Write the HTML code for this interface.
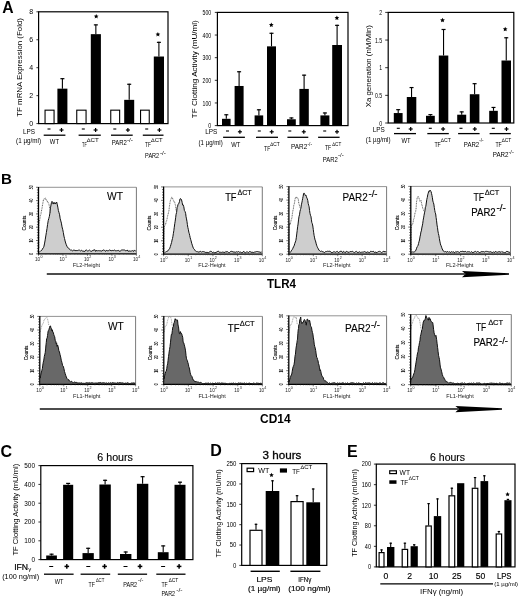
<!DOCTYPE html>
<html><head><meta charset="utf-8"><style>
html,body{margin:0;padding:0;background:#fff;}
svg{display:block;font-family:"Liberation Sans", sans-serif;}
</style></head><body>
<svg width="520" height="599" viewBox="0 0 520 599">
<rect x="0" y="0" width="520" height="599" fill="#fff"/>
<g id="root" filter="url(#blur)">
<text x="2.30" y="12.70" font-size="15.7" font-weight="bold">A</text>
<text x="1.00" y="184.10" font-size="15.2" font-weight="bold">B</text>
<text x="0.40" y="456.60" font-size="16.0" font-weight="bold">C</text>
<text x="210.30" y="455.60" font-size="16.0" font-weight="bold">D</text>
<text x="346.90" y="457.30" font-size="16.0" font-weight="bold">E</text>
<rect x="38.60" y="11.80" width="129.40" height="111.80" fill="none" stroke="#000" stroke-width="1.2"/>
<line x1="36.40" y1="123.60" x2="38.60" y2="123.60" stroke="#000" stroke-width="0.8" />
<text x="33.20" y="126.20" font-size="7.6" text-anchor="end" textLength="3.90" lengthAdjust="spacingAndGlyphs">0</text>
<line x1="36.40" y1="95.65" x2="38.60" y2="95.65" stroke="#000" stroke-width="0.8" />
<text x="33.20" y="98.25" font-size="7.6" text-anchor="end" textLength="3.90" lengthAdjust="spacingAndGlyphs">2</text>
<line x1="36.40" y1="67.70" x2="38.60" y2="67.70" stroke="#000" stroke-width="0.8" />
<text x="33.20" y="70.30" font-size="7.6" text-anchor="end" textLength="3.90" lengthAdjust="spacingAndGlyphs">4</text>
<line x1="36.40" y1="39.75" x2="38.60" y2="39.75" stroke="#000" stroke-width="0.8" />
<text x="33.20" y="42.35" font-size="7.6" text-anchor="end" textLength="3.90" lengthAdjust="spacingAndGlyphs">6</text>
<line x1="36.40" y1="11.80" x2="38.60" y2="11.80" stroke="#000" stroke-width="0.8" />
<text x="33.20" y="14.40" font-size="7.6" text-anchor="end" textLength="3.90" lengthAdjust="spacingAndGlyphs">8</text>
<text x="22.00" y="67.40" font-size="7.5" text-anchor="middle" textLength="98.80" lengthAdjust="spacingAndGlyphs" transform="rotate(-90 22.00 67.40)">TF mRNA Expression (Fold)</text>
<rect x="45.05" y="110.17" width="9.00" height="13.42" fill="#fff" stroke="#000" stroke-width="1.1"/>
<line x1="62.40" y1="88.66" x2="62.40" y2="78.18" stroke="#000" stroke-width="1.1" />
<line x1="60.40" y1="78.68" x2="64.40" y2="78.68" stroke="#000" stroke-width="1.2" />
<rect x="57.40" y="88.66" width="10.00" height="34.94" fill="#000"/>
<rect x="76.75" y="110.17" width="9.30" height="13.42" fill="#fff" stroke="#000" stroke-width="1.1"/>
<line x1="95.85" y1="34.16" x2="95.85" y2="24.38" stroke="#000" stroke-width="1.1" />
<line x1="93.85" y1="24.88" x2="97.85" y2="24.88" stroke="#000" stroke-width="1.2" />
<rect x="90.80" y="34.16" width="10.10" height="89.44" fill="#000"/>
<rect x="110.75" y="110.17" width="8.90" height="13.42" fill="#fff" stroke="#000" stroke-width="1.1"/>
<line x1="129.20" y1="99.84" x2="129.20" y2="83.77" stroke="#000" stroke-width="1.1" />
<line x1="127.20" y1="84.27" x2="131.20" y2="84.27" stroke="#000" stroke-width="1.2" />
<rect x="124.20" y="99.84" width="10.00" height="23.76" fill="#000"/>
<rect x="140.55" y="110.17" width="8.70" height="13.42" fill="#fff" stroke="#000" stroke-width="1.1"/>
<line x1="158.90" y1="56.52" x2="158.90" y2="41.85" stroke="#000" stroke-width="1.1" />
<line x1="156.90" y1="42.35" x2="160.90" y2="42.35" stroke="#000" stroke-width="1.2" />
<rect x="153.80" y="56.52" width="10.20" height="67.08" fill="#000"/>
<polygon points="96.20,13.90 96.89,15.45 98.58,15.63 97.32,16.76 97.67,18.42 96.20,17.57 94.73,18.42 95.08,16.76 93.82,15.63 95.51,15.45" fill="#000"/>
<polygon points="157.90,31.90 158.59,33.45 160.28,33.63 159.02,34.76 159.37,36.42 157.90,35.57 156.43,36.42 156.78,34.76 155.52,33.63 157.21,33.45" fill="#000"/>
<text x="35.00" y="134.20" font-size="6.4" text-anchor="end">LPS</text>
<text x="41.00" y="143.20" font-size="6.3" text-anchor="end" textLength="24.90" lengthAdjust="spacingAndGlyphs">(1 µg/ml)</text>
<rect x="47.50" y="128.45" width="3.00" height="1.10" fill="#000"/>
<rect x="59.50" y="129.40" width="4.00" height="1.20" fill="#000"/>
<rect x="60.90" y="128.00" width="1.20" height="4.00" fill="#000"/>
<line x1="43.70" y1="135.20" x2="65.40" y2="135.20" stroke="#000" stroke-width="1.3" />
<rect x="81.80" y="128.45" width="3.00" height="1.10" fill="#000"/>
<rect x="93.60" y="129.40" width="4.00" height="1.20" fill="#000"/>
<rect x="95.00" y="128.00" width="1.20" height="4.00" fill="#000"/>
<line x1="78.60" y1="135.20" x2="100.80" y2="135.20" stroke="#000" stroke-width="1.3" />
<rect x="113.30" y="128.45" width="3.00" height="1.10" fill="#000"/>
<rect x="125.90" y="129.40" width="4.00" height="1.20" fill="#000"/>
<rect x="127.30" y="128.00" width="1.20" height="4.00" fill="#000"/>
<line x1="111.00" y1="135.20" x2="132.70" y2="135.20" stroke="#000" stroke-width="1.3" />
<rect x="145.20" y="128.45" width="3.00" height="1.10" fill="#000"/>
<rect x="157.40" y="129.40" width="4.00" height="1.20" fill="#000"/>
<rect x="158.80" y="128.00" width="1.20" height="4.00" fill="#000"/>
<line x1="142.80" y1="135.20" x2="163.50" y2="135.20" stroke="#000" stroke-width="1.3" />
<text x="49.80" y="143.50" font-size="7.5" textLength="9.20" lengthAdjust="spacingAndGlyphs">WT</text>
<text x="82.10" y="146.70" font-size="7.5" textLength="4.60" lengthAdjust="spacingAndGlyphs">TF</text>
<text x="86.70" y="142.30" font-size="5.2" textLength="12.10" lengthAdjust="spacingAndGlyphs">∆CT</text>
<text x="111.80" y="145.20" font-size="7.5" textLength="15.10" lengthAdjust="spacingAndGlyphs">PAR2</text>
<text x="126.90" y="141.80" font-size="5.2" textLength="6.10" lengthAdjust="spacingAndGlyphs">-/-</text>
<text x="145.10" y="146.50" font-size="7.5" textLength="5.80" lengthAdjust="spacingAndGlyphs">TF</text>
<text x="151.10" y="141.80" font-size="5.2" textLength="11.50" lengthAdjust="spacingAndGlyphs">∆CT</text>
<text x="145.10" y="158.00" font-size="7.5" textLength="14.10" lengthAdjust="spacingAndGlyphs">PAR2</text>
<text x="159.90" y="154.60" font-size="5.2" textLength="6.10" lengthAdjust="spacingAndGlyphs">-/-</text>
<rect x="217.40" y="12.40" width="130.60" height="113.20" fill="none" stroke="#000" stroke-width="1.2"/>
<line x1="214.80" y1="125.60" x2="217.40" y2="125.60" stroke="#000" stroke-width="0.8" />
<text x="211.20" y="128.30" font-size="7.6" text-anchor="end" textLength="2.90" lengthAdjust="spacingAndGlyphs">0</text>
<line x1="214.80" y1="102.96" x2="217.40" y2="102.96" stroke="#000" stroke-width="0.8" />
<text x="211.20" y="105.66" font-size="7.6" text-anchor="end" textLength="8.70" lengthAdjust="spacingAndGlyphs">100</text>
<line x1="214.80" y1="80.32" x2="217.40" y2="80.32" stroke="#000" stroke-width="0.8" />
<text x="211.20" y="83.02" font-size="7.6" text-anchor="end" textLength="8.70" lengthAdjust="spacingAndGlyphs">200</text>
<line x1="214.80" y1="57.68" x2="217.40" y2="57.68" stroke="#000" stroke-width="0.8" />
<text x="211.20" y="60.38" font-size="7.6" text-anchor="end" textLength="8.70" lengthAdjust="spacingAndGlyphs">300</text>
<line x1="214.80" y1="35.04" x2="217.40" y2="35.04" stroke="#000" stroke-width="0.8" />
<text x="211.20" y="37.74" font-size="7.6" text-anchor="end" textLength="8.70" lengthAdjust="spacingAndGlyphs">400</text>
<line x1="214.80" y1="12.40" x2="217.40" y2="12.40" stroke="#000" stroke-width="0.8" />
<text x="211.20" y="15.10" font-size="7.6" text-anchor="end" textLength="8.70" lengthAdjust="spacingAndGlyphs">500</text>
<text x="197.40" y="69.20" font-size="7.4" text-anchor="middle" textLength="98.00" lengthAdjust="spacingAndGlyphs" transform="rotate(-90 197.40 69.20)">TF Clotting Activity (mU/ml)</text>
<line x1="226.30" y1="118.81" x2="226.30" y2="114.28" stroke="#000" stroke-width="1.1" />
<line x1="224.30" y1="114.78" x2="228.30" y2="114.78" stroke="#000" stroke-width="1.2" />
<rect x="222.00" y="118.81" width="8.60" height="6.79" fill="#000"/>
<line x1="239.10" y1="85.98" x2="239.10" y2="71.26" stroke="#000" stroke-width="1.1" />
<line x1="237.10" y1="71.76" x2="241.10" y2="71.76" stroke="#000" stroke-width="1.2" />
<rect x="234.60" y="85.98" width="9.00" height="39.62" fill="#000"/>
<line x1="258.90" y1="115.41" x2="258.90" y2="109.30" stroke="#000" stroke-width="1.1" />
<line x1="256.90" y1="109.80" x2="260.90" y2="109.80" stroke="#000" stroke-width="1.2" />
<rect x="254.60" y="115.41" width="8.60" height="10.19" fill="#000"/>
<line x1="271.50" y1="46.36" x2="271.50" y2="32.78" stroke="#000" stroke-width="1.1" />
<line x1="269.50" y1="33.28" x2="273.50" y2="33.28" stroke="#000" stroke-width="1.2" />
<rect x="267.00" y="46.36" width="9.00" height="79.24" fill="#000"/>
<line x1="291.40" y1="119.26" x2="291.40" y2="117.45" stroke="#000" stroke-width="1.1" />
<line x1="289.40" y1="117.95" x2="293.40" y2="117.95" stroke="#000" stroke-width="1.2" />
<rect x="287.00" y="119.26" width="8.80" height="6.34" fill="#000"/>
<line x1="304.10" y1="88.92" x2="304.10" y2="74.66" stroke="#000" stroke-width="1.1" />
<line x1="302.10" y1="75.16" x2="306.10" y2="75.16" stroke="#000" stroke-width="1.2" />
<rect x="299.40" y="88.92" width="9.40" height="36.68" fill="#000"/>
<line x1="324.90" y1="115.41" x2="324.90" y2="112.47" stroke="#000" stroke-width="1.1" />
<line x1="322.90" y1="112.97" x2="326.90" y2="112.97" stroke="#000" stroke-width="1.2" />
<rect x="320.40" y="115.41" width="9.00" height="10.19" fill="#000"/>
<line x1="337.10" y1="45.00" x2="337.10" y2="24.85" stroke="#000" stroke-width="1.1" />
<line x1="335.10" y1="25.35" x2="339.10" y2="25.35" stroke="#000" stroke-width="1.2" />
<rect x="332.20" y="45.00" width="9.80" height="80.60" fill="#000"/>
<polygon points="271.30,22.50 271.99,24.05 273.68,24.23 272.42,25.36 272.77,27.02 271.30,26.18 269.83,27.02 270.18,25.36 268.92,24.23 270.61,24.05" fill="#000"/>
<polygon points="336.90,15.50 337.59,17.05 339.28,17.23 338.02,18.36 338.37,20.02 336.90,19.18 335.43,20.02 335.78,18.36 334.52,17.23 336.21,17.05" fill="#000"/>
<text x="217.40" y="134.00" font-size="6.4" text-anchor="end">LPS</text>
<text x="222.70" y="144.60" font-size="6.3" text-anchor="end" textLength="24.10" lengthAdjust="spacingAndGlyphs">(1 µg/ml)</text>
<rect x="226.00" y="130.45" width="3.00" height="1.10" fill="#000"/>
<rect x="237.90" y="131.20" width="4.00" height="1.20" fill="#000"/>
<rect x="239.30" y="129.80" width="1.20" height="4.00" fill="#000"/>
<line x1="223.10" y1="137.30" x2="244.90" y2="137.30" stroke="#000" stroke-width="1.3" />
<rect x="257.80" y="130.45" width="3.00" height="1.10" fill="#000"/>
<rect x="269.70" y="131.20" width="4.00" height="1.20" fill="#000"/>
<rect x="271.10" y="129.80" width="1.20" height="4.00" fill="#000"/>
<line x1="256.00" y1="137.30" x2="278.00" y2="137.30" stroke="#000" stroke-width="1.3" />
<rect x="288.30" y="130.45" width="3.00" height="1.10" fill="#000"/>
<rect x="301.80" y="131.20" width="4.00" height="1.20" fill="#000"/>
<rect x="303.20" y="129.80" width="1.20" height="4.00" fill="#000"/>
<line x1="287.40" y1="137.30" x2="308.30" y2="137.30" stroke="#000" stroke-width="1.3" />
<rect x="323.20" y="130.45" width="3.00" height="1.10" fill="#000"/>
<rect x="335.00" y="131.20" width="4.00" height="1.20" fill="#000"/>
<rect x="336.40" y="129.80" width="1.20" height="4.00" fill="#000"/>
<line x1="318.10" y1="137.30" x2="339.60" y2="137.30" stroke="#000" stroke-width="1.3" />
<text x="231.20" y="146.60" font-size="7.5" textLength="9.10" lengthAdjust="spacingAndGlyphs">WT</text>
<text x="264.10" y="150.50" font-size="7.5" textLength="6.10" lengthAdjust="spacingAndGlyphs">TF</text>
<text x="270.20" y="145.90" font-size="5.2" textLength="9.40" lengthAdjust="spacingAndGlyphs">∆CT</text>
<text x="291.00" y="149.40" font-size="7.5" textLength="16.30" lengthAdjust="spacingAndGlyphs">PAR2</text>
<text x="307.50" y="145.60" font-size="5.2" textLength="4.50" lengthAdjust="spacingAndGlyphs">-/-</text>
<text x="325.00" y="150.40" font-size="7.5" textLength="6.20" lengthAdjust="spacingAndGlyphs">TF</text>
<text x="332.30" y="145.80" font-size="5.2" textLength="8.90" lengthAdjust="spacingAndGlyphs">∆CT</text>
<text x="322.70" y="161.50" font-size="7.5" textLength="15.00" lengthAdjust="spacingAndGlyphs">PAR2</text>
<text x="338.00" y="157.00" font-size="5.2" textLength="5.80" lengthAdjust="spacingAndGlyphs">-/-</text>
<rect x="388.20" y="12.40" width="125.60" height="110.60" fill="none" stroke="#000" stroke-width="1.2"/>
<line x1="385.20" y1="123.00" x2="388.20" y2="123.00" stroke="#000" stroke-width="0.8" />
<text x="382.20" y="125.70" font-size="7.8" text-anchor="end" textLength="2.90" lengthAdjust="spacingAndGlyphs">0</text>
<line x1="385.20" y1="95.35" x2="388.20" y2="95.35" stroke="#000" stroke-width="0.8" />
<text x="382.20" y="98.05" font-size="7.8" text-anchor="end" textLength="7.20" lengthAdjust="spacingAndGlyphs">0.5</text>
<line x1="385.20" y1="67.70" x2="388.20" y2="67.70" stroke="#000" stroke-width="0.8" />
<text x="382.20" y="70.40" font-size="7.8" text-anchor="end" textLength="2.90" lengthAdjust="spacingAndGlyphs">1</text>
<line x1="385.20" y1="40.05" x2="388.20" y2="40.05" stroke="#000" stroke-width="0.8" />
<text x="382.20" y="42.75" font-size="7.8" text-anchor="end" textLength="7.20" lengthAdjust="spacingAndGlyphs">1.5</text>
<line x1="385.20" y1="12.40" x2="388.20" y2="12.40" stroke="#000" stroke-width="0.8" />
<text x="382.20" y="15.10" font-size="7.8" text-anchor="end" textLength="2.90" lengthAdjust="spacingAndGlyphs">2</text>
<text x="371.20" y="66.20" font-size="7.6" text-anchor="middle" textLength="82.20" lengthAdjust="spacingAndGlyphs" transform="rotate(-90 371.20 66.20)">Xa generation (nM/Min)</text>
<line x1="398.20" y1="113.05" x2="398.20" y2="109.17" stroke="#000" stroke-width="1.1" />
<line x1="396.20" y1="109.67" x2="400.20" y2="109.67" stroke="#000" stroke-width="1.2" />
<rect x="393.80" y="113.05" width="8.80" height="9.95" fill="#000"/>
<line x1="411.55" y1="97.01" x2="411.55" y2="87.06" stroke="#000" stroke-width="1.1" />
<line x1="409.55" y1="87.56" x2="413.55" y2="87.56" stroke="#000" stroke-width="1.2" />
<rect x="406.80" y="97.01" width="9.50" height="25.99" fill="#000"/>
<line x1="430.40" y1="115.81" x2="430.40" y2="114.15" stroke="#000" stroke-width="1.1" />
<line x1="428.40" y1="114.65" x2="432.40" y2="114.65" stroke="#000" stroke-width="1.2" />
<rect x="426.00" y="115.81" width="8.80" height="7.19" fill="#000"/>
<line x1="443.55" y1="55.53" x2="443.55" y2="28.99" stroke="#000" stroke-width="1.1" />
<line x1="441.55" y1="29.49" x2="445.55" y2="29.49" stroke="#000" stroke-width="1.2" />
<rect x="438.80" y="55.53" width="9.50" height="67.47" fill="#000"/>
<line x1="461.70" y1="114.70" x2="461.70" y2="111.39" stroke="#000" stroke-width="1.1" />
<line x1="459.70" y1="111.89" x2="463.70" y2="111.89" stroke="#000" stroke-width="1.2" />
<rect x="457.20" y="114.70" width="9.00" height="8.30" fill="#000"/>
<line x1="474.60" y1="94.24" x2="474.60" y2="83.18" stroke="#000" stroke-width="1.1" />
<line x1="472.60" y1="83.68" x2="476.60" y2="83.68" stroke="#000" stroke-width="1.2" />
<rect x="469.80" y="94.24" width="9.60" height="28.76" fill="#000"/>
<line x1="493.50" y1="110.83" x2="493.50" y2="106.96" stroke="#000" stroke-width="1.1" />
<line x1="491.50" y1="107.46" x2="495.50" y2="107.46" stroke="#000" stroke-width="1.2" />
<rect x="489.20" y="110.83" width="8.60" height="12.17" fill="#000"/>
<line x1="506.25" y1="60.51" x2="506.25" y2="37.28" stroke="#000" stroke-width="1.1" />
<line x1="504.25" y1="37.78" x2="508.25" y2="37.78" stroke="#000" stroke-width="1.2" />
<rect x="501.50" y="60.51" width="9.50" height="62.49" fill="#000"/>
<polygon points="442.50,17.80 443.19,19.35 444.88,19.53 443.62,20.66 443.97,22.32 442.50,21.48 441.03,22.32 441.38,20.66 440.12,19.53 441.81,19.35" fill="#000"/>
<polygon points="505.20,26.70 505.89,28.25 507.58,28.43 506.32,29.56 506.67,31.22 505.20,30.38 503.73,31.22 504.08,29.56 502.82,28.43 504.51,28.25" fill="#000"/>
<text x="384.80" y="132.30" font-size="6.4" text-anchor="end">LPS</text>
<text x="390.60" y="142.10" font-size="6.3" text-anchor="end" textLength="24.80" lengthAdjust="spacingAndGlyphs">(1 µg/ml)</text>
<rect x="396.80" y="127.75" width="3.00" height="1.10" fill="#000"/>
<rect x="408.70" y="128.40" width="4.00" height="1.20" fill="#000"/>
<rect x="410.10" y="127.00" width="1.20" height="4.00" fill="#000"/>
<line x1="394.00" y1="133.60" x2="416.00" y2="133.60" stroke="#000" stroke-width="1.3" />
<rect x="428.80" y="127.75" width="3.00" height="1.10" fill="#000"/>
<rect x="441.10" y="128.40" width="4.00" height="1.20" fill="#000"/>
<rect x="442.50" y="127.00" width="1.20" height="4.00" fill="#000"/>
<line x1="427.30" y1="133.60" x2="448.80" y2="133.60" stroke="#000" stroke-width="1.3" />
<rect x="459.50" y="127.75" width="3.00" height="1.10" fill="#000"/>
<rect x="472.80" y="128.40" width="4.00" height="1.20" fill="#000"/>
<rect x="474.20" y="127.00" width="1.20" height="4.00" fill="#000"/>
<line x1="458.10" y1="133.60" x2="479.60" y2="133.60" stroke="#000" stroke-width="1.3" />
<rect x="491.80" y="127.75" width="3.00" height="1.10" fill="#000"/>
<rect x="504.50" y="128.40" width="4.00" height="1.20" fill="#000"/>
<rect x="505.90" y="127.00" width="1.20" height="4.00" fill="#000"/>
<line x1="489.60" y1="133.60" x2="510.80" y2="133.60" stroke="#000" stroke-width="1.3" />
<text x="401.50" y="143.30" font-size="7.5" textLength="9.20" lengthAdjust="spacingAndGlyphs">WT</text>
<text x="434.40" y="147.10" font-size="7.5" textLength="6.40" lengthAdjust="spacingAndGlyphs">TF</text>
<text x="440.80" y="142.30" font-size="5.2" textLength="10.00" lengthAdjust="spacingAndGlyphs">∆CT</text>
<text x="463.80" y="146.50" font-size="7.5" textLength="15.40" lengthAdjust="spacingAndGlyphs">PAR2</text>
<text x="479.20" y="142.30" font-size="5.2" textLength="4.30" lengthAdjust="spacingAndGlyphs">-/-</text>
<text x="495.40" y="146.70" font-size="7.5" textLength="6.30" lengthAdjust="spacingAndGlyphs">TF</text>
<text x="501.70" y="142.30" font-size="5.2" textLength="9.60" lengthAdjust="spacingAndGlyphs">∆CT</text>
<text x="492.70" y="157.30" font-size="7.5" textLength="15.80" lengthAdjust="spacingAndGlyphs">PAR2</text>
<text x="508.50" y="153.80" font-size="5.2" textLength="5.30" lengthAdjust="spacingAndGlyphs">-/-</text>
<path d="M39.10,253.80 L39.30,251.77 L39.75,251.82 L40.39,251.32 L41.00,250.64 L41.51,250.49 L42.01,249.82 L42.50,249.06 L43.01,247.98 L43.52,247.52 L44.00,246.16 L44.62,243.09 L45.20,239.83 L45.80,235.91 L46.40,232.46 L47.00,228.50 L47.60,224.40 L48.21,220.63 L48.80,218.44 L49.36,216.38 L49.90,213.11 L50.46,207.84 L51.00,205.01 L51.49,202.37 L52.00,201.35 L52.57,202.53 L53.20,204.09 L53.69,202.54 L54.20,203.62 L54.70,202.57 L55.37,204.05 L56.00,202.95 L56.61,201.99 L57.20,204.13 L57.80,207.13 L58.40,210.59 L59.00,212.65 L59.60,214.77 L60.20,218.82 L60.80,220.91 L61.39,223.14 L62.00,226.84 L62.65,229.28 L63.30,232.39 L63.91,236.06 L64.50,238.42 L65.10,240.97 L65.70,243.09 L66.29,244.76 L66.90,246.18 L67.55,247.43 L68.20,247.65 L68.81,248.64 L69.40,248.84 L70.03,249.74 L70.50,250.25 L71.40,250.03 L72.30,250.89 L73.20,250.30 L74.10,250.06 L75.00,250.58 L75.90,250.59 L76.80,250.56 L77.70,250.52 L78.60,250.18 L79.50,250.16 L80.40,250.95 L81.30,250.28 L82.20,250.91 L83.10,251.12 L84.00,251.26 L84.90,251.40 L85.80,250.12 L86.70,250.13 L87.60,251.02 L88.50,250.74 L89.40,250.06 L90.30,250.92 L91.20,251.27 L92.10,251.20 L93.00,250.09 L93.90,250.24 L94.80,249.71 L95.70,251.46 L96.60,250.10 L97.50,251.01 L98.40,250.67 L99.30,250.77 L100.20,250.65 L101.10,251.19 L102.00,250.78 L102.90,250.25 L103.80,249.91 L104.70,250.56 L105.60,251.36 L106.50,249.96 L107.40,250.93 L108.30,250.84 L109.20,249.99 L110.10,250.07 L111.00,250.94 L111.90,250.49 L112.80,250.43 L113.70,250.56 L114.60,249.88 L115.50,250.97 L116.40,250.76 L117.30,250.66 L118.20,250.31 L119.10,251.16 L120.00,251.18 L120.90,250.68 L121.80,249.86 L122.70,249.97 L123.60,249.97 L124.50,249.84 L125.40,250.87 L126.30,250.68 L127.20,250.07 L128.10,251.34 L129.00,250.83 L129.90,251.13 L130.80,251.17 L131.70,250.93 L132.60,250.65 L133.50,251.47 L134.40,249.94 L135.30,250.94 L135.80,251.29 L135.80,253.80 Z" fill="#cecece" stroke="none"/>
<path d="M39.30,251.77 L39.75,251.82 L40.39,251.32 L41.00,250.64 L41.51,250.49 L42.01,249.82 L42.50,249.06 L43.01,247.98 L43.52,247.52 L44.00,246.16 L44.62,243.09 L45.20,239.83 L45.80,235.91 L46.40,232.46 L47.00,228.50 L47.60,224.40 L48.21,220.63 L48.80,218.44 L49.36,216.38 L49.90,213.11 L50.46,207.84 L51.00,205.01 L51.49,202.37 L52.00,201.35 L52.57,202.53 L53.20,204.09 L53.69,202.54 L54.20,203.62 L54.70,202.57 L55.37,204.05 L56.00,202.95 L56.61,201.99 L57.20,204.13 L57.80,207.13 L58.40,210.59 L59.00,212.65 L59.60,214.77 L60.20,218.82 L60.80,220.91 L61.39,223.14 L62.00,226.84 L62.65,229.28 L63.30,232.39 L63.91,236.06 L64.50,238.42 L65.10,240.97 L65.70,243.09 L66.29,244.76 L66.90,246.18 L67.55,247.43 L68.20,247.65 L68.81,248.64 L69.40,248.84 L70.03,249.74 L70.50,250.25 L71.40,250.03 L72.30,250.89 L73.20,250.30 L74.10,250.06 L75.00,250.58 L75.90,250.59 L76.80,250.56 L77.70,250.52 L78.60,250.18 L79.50,250.16 L80.40,250.95 L81.30,250.28 L82.20,250.91 L83.10,251.12 L84.00,251.26 L84.90,251.40 L85.80,250.12 L86.70,250.13 L87.60,251.02 L88.50,250.74 L89.40,250.06 L90.30,250.92 L91.20,251.27 L92.10,251.20 L93.00,250.09 L93.90,250.24 L94.80,249.71 L95.70,251.46 L96.60,250.10 L97.50,251.01 L98.40,250.67 L99.30,250.77 L100.20,250.65 L101.10,251.19 L102.00,250.78 L102.90,250.25 L103.80,249.91 L104.70,250.56 L105.60,251.36 L106.50,249.96 L107.40,250.93 L108.30,250.84 L109.20,249.99 L110.10,250.07 L111.00,250.94 L111.90,250.49 L112.80,250.43 L113.70,250.56 L114.60,249.88 L115.50,250.97 L116.40,250.76 L117.30,250.66 L118.20,250.31 L119.10,251.16 L120.00,251.18 L120.90,250.68 L121.80,249.86 L122.70,249.97 L123.60,249.97 L124.50,249.84 L125.40,250.87 L126.30,250.68 L127.20,250.07 L128.10,251.34 L129.00,250.83 L129.90,251.13 L130.80,251.17 L131.70,250.93 L132.60,250.65 L133.50,251.47 L134.40,249.94 L135.30,250.94 L135.80,251.29" fill="none" stroke="#111" stroke-width="1.0" stroke-linejoin="round"/>
<path d="M38.90,248.14 L38.86,237.73 L38.90,225.47 L39.14,222.90 L39.50,221.19 L39.93,218.63 L40.40,215.50 L40.85,214.68 L41.30,211.67 L41.75,209.62 L42.20,207.18 L42.65,204.17 L43.10,201.67 L43.54,199.33 L44.00,199.41 L44.50,198.98 L45.00,198.01 L45.46,198.02 L45.90,199.73 L46.35,199.49 L46.80,200.58 L47.25,201.13 L47.70,202.54 L48.15,202.44 L48.60,203.31 L49.06,204.80 L49.50,206.94 L49.96,209.40 L50.30,212.69" fill="none" stroke="#3a3a3a" stroke-width="0.8" stroke-dasharray="1.0,0.7"/>
<line x1="38.50" y1="187.30" x2="136.40" y2="187.30" stroke="#777" stroke-width="0.8" />
<line x1="136.40" y1="187.30" x2="136.40" y2="253.80" stroke="#555" stroke-width="0.8" />
<line x1="38.50" y1="187.00" x2="38.50" y2="254.40" stroke="#000" stroke-width="1.3" />
<line x1="37.90" y1="253.80" x2="136.40" y2="253.80" stroke="#000" stroke-width="1.2" />
<line x1="36.00" y1="253.80" x2="38.50" y2="253.80" stroke="#111" stroke-width="0.6" />
<line x1="36.90" y1="251.14" x2="38.50" y2="251.14" stroke="#111" stroke-width="0.6" />
<line x1="36.90" y1="248.48" x2="38.50" y2="248.48" stroke="#111" stroke-width="0.6" />
<line x1="36.90" y1="245.82" x2="38.50" y2="245.82" stroke="#111" stroke-width="0.6" />
<line x1="36.90" y1="243.16" x2="38.50" y2="243.16" stroke="#111" stroke-width="0.6" />
<line x1="36.00" y1="240.50" x2="38.50" y2="240.50" stroke="#111" stroke-width="0.6" />
<line x1="36.90" y1="237.84" x2="38.50" y2="237.84" stroke="#111" stroke-width="0.6" />
<line x1="36.90" y1="235.18" x2="38.50" y2="235.18" stroke="#111" stroke-width="0.6" />
<line x1="36.90" y1="232.52" x2="38.50" y2="232.52" stroke="#111" stroke-width="0.6" />
<line x1="36.90" y1="229.86" x2="38.50" y2="229.86" stroke="#111" stroke-width="0.6" />
<line x1="36.00" y1="227.20" x2="38.50" y2="227.20" stroke="#111" stroke-width="0.6" />
<line x1="36.90" y1="224.54" x2="38.50" y2="224.54" stroke="#111" stroke-width="0.6" />
<line x1="36.90" y1="221.88" x2="38.50" y2="221.88" stroke="#111" stroke-width="0.6" />
<line x1="36.90" y1="219.22" x2="38.50" y2="219.22" stroke="#111" stroke-width="0.6" />
<line x1="36.90" y1="216.56" x2="38.50" y2="216.56" stroke="#111" stroke-width="0.6" />
<line x1="36.00" y1="213.90" x2="38.50" y2="213.90" stroke="#111" stroke-width="0.6" />
<line x1="36.90" y1="211.24" x2="38.50" y2="211.24" stroke="#111" stroke-width="0.6" />
<line x1="36.90" y1="208.58" x2="38.50" y2="208.58" stroke="#111" stroke-width="0.6" />
<line x1="36.90" y1="205.92" x2="38.50" y2="205.92" stroke="#111" stroke-width="0.6" />
<line x1="36.90" y1="203.26" x2="38.50" y2="203.26" stroke="#111" stroke-width="0.6" />
<line x1="36.00" y1="200.60" x2="38.50" y2="200.60" stroke="#111" stroke-width="0.6" />
<line x1="36.90" y1="197.94" x2="38.50" y2="197.94" stroke="#111" stroke-width="0.6" />
<line x1="36.90" y1="195.28" x2="38.50" y2="195.28" stroke="#111" stroke-width="0.6" />
<line x1="36.90" y1="192.62" x2="38.50" y2="192.62" stroke="#111" stroke-width="0.6" />
<line x1="36.90" y1="189.96" x2="38.50" y2="189.96" stroke="#111" stroke-width="0.6" />
<line x1="36.00" y1="187.30" x2="38.50" y2="187.30" stroke="#111" stroke-width="0.6" />
<text x="33.10" y="253.80" font-size="5.0" stroke="#000" stroke-width="0.12" text-anchor="middle" textLength="1.90" lengthAdjust="spacingAndGlyphs" transform="rotate(-90 33.10 253.80)">0</text>
<text x="33.10" y="240.50" font-size="5.0" stroke="#000" stroke-width="0.12" text-anchor="middle" textLength="3.80" lengthAdjust="spacingAndGlyphs" transform="rotate(-90 33.10 240.50)">10</text>
<text x="33.10" y="227.20" font-size="5.0" stroke="#000" stroke-width="0.12" text-anchor="middle" textLength="3.80" lengthAdjust="spacingAndGlyphs" transform="rotate(-90 33.10 227.20)">20</text>
<text x="33.10" y="213.90" font-size="5.0" stroke="#000" stroke-width="0.12" text-anchor="middle" textLength="3.80" lengthAdjust="spacingAndGlyphs" transform="rotate(-90 33.10 213.90)">30</text>
<text x="33.10" y="200.60" font-size="5.0" stroke="#000" stroke-width="0.12" text-anchor="middle" textLength="3.80" lengthAdjust="spacingAndGlyphs" transform="rotate(-90 33.10 200.60)">40</text>
<text x="33.10" y="187.30" font-size="5.0" stroke="#000" stroke-width="0.12" text-anchor="middle" textLength="3.80" lengthAdjust="spacingAndGlyphs" transform="rotate(-90 33.10 187.30)">50</text>
<text x="26.40" y="223.05" font-size="4.5" stroke="#000" stroke-width="0.12" text-anchor="middle" textLength="14.70" lengthAdjust="spacingAndGlyphs" transform="rotate(-90 26.40 223.05)">Counts</text>
<line x1="38.50" y1="253.80" x2="38.50" y2="255.80" stroke="#222" stroke-width="0.6" />
<line x1="45.87" y1="253.80" x2="45.87" y2="254.90" stroke="#444" stroke-width="0.45" />
<line x1="50.18" y1="253.80" x2="50.18" y2="254.90" stroke="#444" stroke-width="0.45" />
<line x1="53.24" y1="253.80" x2="53.24" y2="254.90" stroke="#444" stroke-width="0.45" />
<line x1="55.61" y1="253.80" x2="55.61" y2="254.90" stroke="#444" stroke-width="0.45" />
<line x1="57.55" y1="253.80" x2="57.55" y2="254.90" stroke="#444" stroke-width="0.45" />
<line x1="59.18" y1="253.80" x2="59.18" y2="254.90" stroke="#444" stroke-width="0.45" />
<line x1="60.60" y1="253.80" x2="60.60" y2="254.90" stroke="#444" stroke-width="0.45" />
<line x1="61.86" y1="253.80" x2="61.86" y2="254.90" stroke="#444" stroke-width="0.45" />
<text x="37.60" y="261.10" font-size="5.0" text-anchor="middle" fill="#222" textLength="5.20" lengthAdjust="spacingAndGlyphs">10</text>
<text x="40.40" y="258.40" font-size="3.6" fill="#222">0</text>
<line x1="62.98" y1="253.80" x2="62.98" y2="255.80" stroke="#222" stroke-width="0.6" />
<line x1="70.34" y1="253.80" x2="70.34" y2="254.90" stroke="#444" stroke-width="0.45" />
<line x1="74.65" y1="253.80" x2="74.65" y2="254.90" stroke="#444" stroke-width="0.45" />
<line x1="77.71" y1="253.80" x2="77.71" y2="254.90" stroke="#444" stroke-width="0.45" />
<line x1="80.08" y1="253.80" x2="80.08" y2="254.90" stroke="#444" stroke-width="0.45" />
<line x1="82.02" y1="253.80" x2="82.02" y2="254.90" stroke="#444" stroke-width="0.45" />
<line x1="83.66" y1="253.80" x2="83.66" y2="254.90" stroke="#444" stroke-width="0.45" />
<line x1="85.08" y1="253.80" x2="85.08" y2="254.90" stroke="#444" stroke-width="0.45" />
<line x1="86.33" y1="253.80" x2="86.33" y2="254.90" stroke="#444" stroke-width="0.45" />
<text x="62.08" y="261.10" font-size="5.0" text-anchor="middle" fill="#222" textLength="5.20" lengthAdjust="spacingAndGlyphs">10</text>
<text x="64.88" y="258.40" font-size="3.6" fill="#222">1</text>
<line x1="87.45" y1="253.80" x2="87.45" y2="255.80" stroke="#222" stroke-width="0.6" />
<line x1="94.82" y1="253.80" x2="94.82" y2="254.90" stroke="#444" stroke-width="0.45" />
<line x1="99.13" y1="253.80" x2="99.13" y2="254.90" stroke="#444" stroke-width="0.45" />
<line x1="102.19" y1="253.80" x2="102.19" y2="254.90" stroke="#444" stroke-width="0.45" />
<line x1="104.56" y1="253.80" x2="104.56" y2="254.90" stroke="#444" stroke-width="0.45" />
<line x1="106.50" y1="253.80" x2="106.50" y2="254.90" stroke="#444" stroke-width="0.45" />
<line x1="108.13" y1="253.80" x2="108.13" y2="254.90" stroke="#444" stroke-width="0.45" />
<line x1="109.55" y1="253.80" x2="109.55" y2="254.90" stroke="#444" stroke-width="0.45" />
<line x1="110.81" y1="253.80" x2="110.81" y2="254.90" stroke="#444" stroke-width="0.45" />
<text x="86.55" y="261.10" font-size="5.0" text-anchor="middle" fill="#222" textLength="5.20" lengthAdjust="spacingAndGlyphs">10</text>
<text x="89.35" y="258.40" font-size="3.6" fill="#222">2</text>
<line x1="111.93" y1="253.80" x2="111.93" y2="255.80" stroke="#222" stroke-width="0.6" />
<line x1="119.29" y1="253.80" x2="119.29" y2="254.90" stroke="#444" stroke-width="0.45" />
<line x1="123.60" y1="253.80" x2="123.60" y2="254.90" stroke="#444" stroke-width="0.45" />
<line x1="126.66" y1="253.80" x2="126.66" y2="254.90" stroke="#444" stroke-width="0.45" />
<line x1="129.03" y1="253.80" x2="129.03" y2="254.90" stroke="#444" stroke-width="0.45" />
<line x1="130.97" y1="253.80" x2="130.97" y2="254.90" stroke="#444" stroke-width="0.45" />
<line x1="132.61" y1="253.80" x2="132.61" y2="254.90" stroke="#444" stroke-width="0.45" />
<line x1="134.03" y1="253.80" x2="134.03" y2="254.90" stroke="#444" stroke-width="0.45" />
<line x1="135.28" y1="253.80" x2="135.28" y2="254.90" stroke="#444" stroke-width="0.45" />
<text x="111.03" y="261.10" font-size="5.0" text-anchor="middle" fill="#222" textLength="5.20" lengthAdjust="spacingAndGlyphs">10</text>
<text x="113.83" y="258.40" font-size="3.6" fill="#222">3</text>
<line x1="136.40" y1="253.80" x2="136.40" y2="255.80" stroke="#222" stroke-width="0.6" />
<text x="135.50" y="261.10" font-size="5.0" text-anchor="middle" fill="#222" textLength="5.20" lengthAdjust="spacingAndGlyphs">10</text>
<text x="138.30" y="258.40" font-size="3.6" fill="#222">4</text>
<text x="86.45" y="267.00" font-size="5.0" text-anchor="middle" fill="#222" textLength="27.40" lengthAdjust="spacingAndGlyphs">FL2-Height</text>
<path d="M164.20,254.20 L164.40,253.07 L164.84,252.67 L165.50,252.20 L165.90,251.74 L166.36,251.61 L166.83,251.36 L167.30,251.28 L167.92,250.81 L168.54,249.78 L169.10,249.45 L169.79,248.24 L170.40,246.39 L171.03,244.27 L171.60,242.39 L172.07,240.01 L172.50,238.57 L172.95,236.24 L173.40,233.34 L173.85,230.54 L174.30,227.19 L174.75,223.69 L175.20,221.21 L175.64,217.74 L176.10,214.32 L176.60,212.38 L177.10,207.70 L177.56,206.76 L178.00,204.26 L178.44,204.03 L178.90,203.33 L179.44,201.67 L180.00,198.85 L180.50,198.63 L181.00,198.98 L181.54,199.95 L182.10,202.28 L182.64,205.00 L183.20,204.88 L183.79,206.76 L184.40,210.55 L185.02,211.49 L185.60,213.31 L186.07,216.80 L186.50,218.93 L186.95,221.35 L187.40,224.63 L187.84,227.45 L188.30,229.29 L188.80,232.08 L189.30,233.72 L189.76,235.74 L190.20,237.80 L190.63,239.32 L191.10,240.86 L191.68,243.28 L192.30,245.16 L192.88,246.93 L193.50,248.50 L193.97,249.18 L194.48,249.40 L195.00,250.34 L195.53,251.06 L196.08,251.43 L196.60,251.58 L197.13,251.49 L197.64,251.77 L198.00,251.97 L198.90,252.06 L199.80,251.66 L200.70,251.25 L201.60,252.25 L202.50,251.54 L203.40,251.61 L204.30,251.84 L205.20,252.23 L206.10,252.78 L207.00,251.94 L207.90,252.79 L208.80,252.79 L209.70,251.59 L210.60,251.32 L211.50,251.46 L212.40,252.55 L213.30,252.16 L214.20,252.67 L215.10,252.76 L216.00,252.25 L216.90,252.06 L217.80,251.31 L218.70,251.24 L219.60,252.49 L220.50,252.28 L221.40,252.42 L222.30,252.11 L223.20,252.28 L224.10,252.22 L225.00,252.63 L225.90,251.38 L226.80,251.99 L227.70,251.69 L228.60,252.53 L229.50,252.60 L230.40,251.60 L231.30,251.33 L232.20,251.59 L233.10,251.70 L234.00,252.43 L234.90,251.86 L235.80,252.40 L236.70,251.68 L237.60,252.04 L238.50,251.50 L239.40,252.23 L240.30,252.02 L241.20,252.58 L242.10,252.72 L243.00,252.03 L243.90,251.31 L244.80,252.70 L245.70,252.71 L246.60,251.96 L247.50,251.98 L248.40,252.69 L249.30,251.61 L250.20,251.61 L251.10,252.31 L252.00,252.28 L252.90,252.30 L253.80,252.52 L254.70,252.02 L255.60,251.87 L256.50,251.56 L257.40,251.54 L258.30,251.79 L259.20,251.89 L260.10,252.38 L261.00,252.19 L261.70,252.02 L261.70,254.20 Z" fill="#cecece" stroke="none"/>
<path d="M164.40,253.07 L164.84,252.67 L165.50,252.20 L165.90,251.74 L166.36,251.61 L166.83,251.36 L167.30,251.28 L167.92,250.81 L168.54,249.78 L169.10,249.45 L169.79,248.24 L170.40,246.39 L171.03,244.27 L171.60,242.39 L172.07,240.01 L172.50,238.57 L172.95,236.24 L173.40,233.34 L173.85,230.54 L174.30,227.19 L174.75,223.69 L175.20,221.21 L175.64,217.74 L176.10,214.32 L176.60,212.38 L177.10,207.70 L177.56,206.76 L178.00,204.26 L178.44,204.03 L178.90,203.33 L179.44,201.67 L180.00,198.85 L180.50,198.63 L181.00,198.98 L181.54,199.95 L182.10,202.28 L182.64,205.00 L183.20,204.88 L183.79,206.76 L184.40,210.55 L185.02,211.49 L185.60,213.31 L186.07,216.80 L186.50,218.93 L186.95,221.35 L187.40,224.63 L187.84,227.45 L188.30,229.29 L188.80,232.08 L189.30,233.72 L189.76,235.74 L190.20,237.80 L190.63,239.32 L191.10,240.86 L191.68,243.28 L192.30,245.16 L192.88,246.93 L193.50,248.50 L193.97,249.18 L194.48,249.40 L195.00,250.34 L195.53,251.06 L196.08,251.43 L196.60,251.58 L197.13,251.49 L197.64,251.77 L198.00,251.97 L198.90,252.06 L199.80,251.66 L200.70,251.25 L201.60,252.25 L202.50,251.54 L203.40,251.61 L204.30,251.84 L205.20,252.23 L206.10,252.78 L207.00,251.94 L207.90,252.79 L208.80,252.79 L209.70,251.59 L210.60,251.32 L211.50,251.46 L212.40,252.55 L213.30,252.16 L214.20,252.67 L215.10,252.76 L216.00,252.25 L216.90,252.06 L217.80,251.31 L218.70,251.24 L219.60,252.49 L220.50,252.28 L221.40,252.42 L222.30,252.11 L223.20,252.28 L224.10,252.22 L225.00,252.63 L225.90,251.38 L226.80,251.99 L227.70,251.69 L228.60,252.53 L229.50,252.60 L230.40,251.60 L231.30,251.33 L232.20,251.59 L233.10,251.70 L234.00,252.43 L234.90,251.86 L235.80,252.40 L236.70,251.68 L237.60,252.04 L238.50,251.50 L239.40,252.23 L240.30,252.02 L241.20,252.58 L242.10,252.72 L243.00,252.03 L243.90,251.31 L244.80,252.70 L245.70,252.71 L246.60,251.96 L247.50,251.98 L248.40,252.69 L249.30,251.61 L250.20,251.61 L251.10,252.31 L252.00,252.28 L252.90,252.30 L253.80,252.52 L254.70,252.02 L255.60,251.87 L256.50,251.56 L257.40,251.54 L258.30,251.79 L259.20,251.89 L260.10,252.38 L261.00,252.19 L261.70,252.02" fill="none" stroke="#111" stroke-width="1.0" stroke-linejoin="round"/>
<path d="M164.00,252.54 L163.91,241.70 L164.00,230.14 L164.40,226.78 L164.96,225.29 L165.50,224.80 L166.17,221.70 L166.80,220.20 L167.43,216.84 L168.00,214.56 L168.47,212.64 L168.90,210.91 L169.35,206.83 L169.80,203.88 L170.25,200.97 L170.70,199.72 L171.15,198.77 L171.60,197.29 L172.05,197.19 L172.50,198.17 L172.95,199.34 L173.40,200.54 L173.85,201.63 L174.30,201.47 L174.76,202.63 L175.20,204.40 L175.57,205.22 L175.90,208.56 L176.24,210.40 L176.50,211.15" fill="none" stroke="#3a3a3a" stroke-width="0.8" stroke-dasharray="1.0,0.7"/>
<line x1="163.60" y1="186.90" x2="262.30" y2="186.90" stroke="#777" stroke-width="0.8" />
<line x1="262.30" y1="186.90" x2="262.30" y2="254.20" stroke="#555" stroke-width="0.8" />
<line x1="163.60" y1="186.60" x2="163.60" y2="254.80" stroke="#000" stroke-width="1.3" />
<line x1="163.00" y1="254.20" x2="262.30" y2="254.20" stroke="#000" stroke-width="1.2" />
<line x1="161.10" y1="254.20" x2="163.60" y2="254.20" stroke="#111" stroke-width="0.6" />
<line x1="162.00" y1="251.51" x2="163.60" y2="251.51" stroke="#111" stroke-width="0.6" />
<line x1="162.00" y1="248.82" x2="163.60" y2="248.82" stroke="#111" stroke-width="0.6" />
<line x1="162.00" y1="246.12" x2="163.60" y2="246.12" stroke="#111" stroke-width="0.6" />
<line x1="162.00" y1="243.43" x2="163.60" y2="243.43" stroke="#111" stroke-width="0.6" />
<line x1="161.10" y1="240.74" x2="163.60" y2="240.74" stroke="#111" stroke-width="0.6" />
<line x1="162.00" y1="238.05" x2="163.60" y2="238.05" stroke="#111" stroke-width="0.6" />
<line x1="162.00" y1="235.36" x2="163.60" y2="235.36" stroke="#111" stroke-width="0.6" />
<line x1="162.00" y1="232.66" x2="163.60" y2="232.66" stroke="#111" stroke-width="0.6" />
<line x1="162.00" y1="229.97" x2="163.60" y2="229.97" stroke="#111" stroke-width="0.6" />
<line x1="161.10" y1="227.28" x2="163.60" y2="227.28" stroke="#111" stroke-width="0.6" />
<line x1="162.00" y1="224.59" x2="163.60" y2="224.59" stroke="#111" stroke-width="0.6" />
<line x1="162.00" y1="221.90" x2="163.60" y2="221.90" stroke="#111" stroke-width="0.6" />
<line x1="162.00" y1="219.20" x2="163.60" y2="219.20" stroke="#111" stroke-width="0.6" />
<line x1="162.00" y1="216.51" x2="163.60" y2="216.51" stroke="#111" stroke-width="0.6" />
<line x1="161.10" y1="213.82" x2="163.60" y2="213.82" stroke="#111" stroke-width="0.6" />
<line x1="162.00" y1="211.13" x2="163.60" y2="211.13" stroke="#111" stroke-width="0.6" />
<line x1="162.00" y1="208.44" x2="163.60" y2="208.44" stroke="#111" stroke-width="0.6" />
<line x1="162.00" y1="205.74" x2="163.60" y2="205.74" stroke="#111" stroke-width="0.6" />
<line x1="162.00" y1="203.05" x2="163.60" y2="203.05" stroke="#111" stroke-width="0.6" />
<line x1="161.10" y1="200.36" x2="163.60" y2="200.36" stroke="#111" stroke-width="0.6" />
<line x1="162.00" y1="197.67" x2="163.60" y2="197.67" stroke="#111" stroke-width="0.6" />
<line x1="162.00" y1="194.98" x2="163.60" y2="194.98" stroke="#111" stroke-width="0.6" />
<line x1="162.00" y1="192.28" x2="163.60" y2="192.28" stroke="#111" stroke-width="0.6" />
<line x1="162.00" y1="189.59" x2="163.60" y2="189.59" stroke="#111" stroke-width="0.6" />
<line x1="161.10" y1="186.90" x2="163.60" y2="186.90" stroke="#111" stroke-width="0.6" />
<text x="158.20" y="254.20" font-size="5.0" stroke="#000" stroke-width="0.12" text-anchor="middle" textLength="1.90" lengthAdjust="spacingAndGlyphs" transform="rotate(-90 158.20 254.20)">0</text>
<text x="158.20" y="240.74" font-size="5.0" stroke="#000" stroke-width="0.12" text-anchor="middle" textLength="3.80" lengthAdjust="spacingAndGlyphs" transform="rotate(-90 158.20 240.74)">10</text>
<text x="158.20" y="227.28" font-size="5.0" stroke="#000" stroke-width="0.12" text-anchor="middle" textLength="3.80" lengthAdjust="spacingAndGlyphs" transform="rotate(-90 158.20 227.28)">20</text>
<text x="158.20" y="213.82" font-size="5.0" stroke="#000" stroke-width="0.12" text-anchor="middle" textLength="3.80" lengthAdjust="spacingAndGlyphs" transform="rotate(-90 158.20 213.82)">30</text>
<text x="158.20" y="200.36" font-size="5.0" stroke="#000" stroke-width="0.12" text-anchor="middle" textLength="3.80" lengthAdjust="spacingAndGlyphs" transform="rotate(-90 158.20 200.36)">40</text>
<text x="158.20" y="186.90" font-size="5.0" stroke="#000" stroke-width="0.12" text-anchor="middle" textLength="3.80" lengthAdjust="spacingAndGlyphs" transform="rotate(-90 158.20 186.90)">50</text>
<text x="151.50" y="223.05" font-size="4.5" stroke="#000" stroke-width="0.12" text-anchor="middle" textLength="14.70" lengthAdjust="spacingAndGlyphs" transform="rotate(-90 151.50 223.05)">Counts</text>
<line x1="163.60" y1="254.20" x2="163.60" y2="256.20" stroke="#222" stroke-width="0.6" />
<line x1="171.03" y1="254.20" x2="171.03" y2="255.30" stroke="#444" stroke-width="0.45" />
<line x1="175.37" y1="254.20" x2="175.37" y2="255.30" stroke="#444" stroke-width="0.45" />
<line x1="178.46" y1="254.20" x2="178.46" y2="255.30" stroke="#444" stroke-width="0.45" />
<line x1="180.85" y1="254.20" x2="180.85" y2="255.30" stroke="#444" stroke-width="0.45" />
<line x1="182.80" y1="254.20" x2="182.80" y2="255.30" stroke="#444" stroke-width="0.45" />
<line x1="184.45" y1="254.20" x2="184.45" y2="255.30" stroke="#444" stroke-width="0.45" />
<line x1="185.88" y1="254.20" x2="185.88" y2="255.30" stroke="#444" stroke-width="0.45" />
<line x1="187.15" y1="254.20" x2="187.15" y2="255.30" stroke="#444" stroke-width="0.45" />
<text x="162.70" y="261.50" font-size="5.0" text-anchor="middle" fill="#222" textLength="5.20" lengthAdjust="spacingAndGlyphs">10</text>
<text x="165.50" y="258.80" font-size="3.6" fill="#222">0</text>
<line x1="188.28" y1="254.20" x2="188.28" y2="256.20" stroke="#222" stroke-width="0.6" />
<line x1="195.70" y1="254.20" x2="195.70" y2="255.30" stroke="#444" stroke-width="0.45" />
<line x1="200.05" y1="254.20" x2="200.05" y2="255.30" stroke="#444" stroke-width="0.45" />
<line x1="203.13" y1="254.20" x2="203.13" y2="255.30" stroke="#444" stroke-width="0.45" />
<line x1="205.52" y1="254.20" x2="205.52" y2="255.30" stroke="#444" stroke-width="0.45" />
<line x1="207.48" y1="254.20" x2="207.48" y2="255.30" stroke="#444" stroke-width="0.45" />
<line x1="209.13" y1="254.20" x2="209.13" y2="255.30" stroke="#444" stroke-width="0.45" />
<line x1="210.56" y1="254.20" x2="210.56" y2="255.30" stroke="#444" stroke-width="0.45" />
<line x1="211.82" y1="254.20" x2="211.82" y2="255.30" stroke="#444" stroke-width="0.45" />
<text x="187.38" y="261.50" font-size="5.0" text-anchor="middle" fill="#222" textLength="5.20" lengthAdjust="spacingAndGlyphs">10</text>
<text x="190.18" y="258.80" font-size="3.6" fill="#222">1</text>
<line x1="212.95" y1="254.20" x2="212.95" y2="256.20" stroke="#222" stroke-width="0.6" />
<line x1="220.38" y1="254.20" x2="220.38" y2="255.30" stroke="#444" stroke-width="0.45" />
<line x1="224.72" y1="254.20" x2="224.72" y2="255.30" stroke="#444" stroke-width="0.45" />
<line x1="227.81" y1="254.20" x2="227.81" y2="255.30" stroke="#444" stroke-width="0.45" />
<line x1="230.20" y1="254.20" x2="230.20" y2="255.30" stroke="#444" stroke-width="0.45" />
<line x1="232.15" y1="254.20" x2="232.15" y2="255.30" stroke="#444" stroke-width="0.45" />
<line x1="233.80" y1="254.20" x2="233.80" y2="255.30" stroke="#444" stroke-width="0.45" />
<line x1="235.23" y1="254.20" x2="235.23" y2="255.30" stroke="#444" stroke-width="0.45" />
<line x1="236.50" y1="254.20" x2="236.50" y2="255.30" stroke="#444" stroke-width="0.45" />
<text x="212.05" y="261.50" font-size="5.0" text-anchor="middle" fill="#222" textLength="5.20" lengthAdjust="spacingAndGlyphs">10</text>
<text x="214.85" y="258.80" font-size="3.6" fill="#222">2</text>
<line x1="237.62" y1="254.20" x2="237.62" y2="256.20" stroke="#222" stroke-width="0.6" />
<line x1="245.05" y1="254.20" x2="245.05" y2="255.30" stroke="#444" stroke-width="0.45" />
<line x1="249.40" y1="254.20" x2="249.40" y2="255.30" stroke="#444" stroke-width="0.45" />
<line x1="252.48" y1="254.20" x2="252.48" y2="255.30" stroke="#444" stroke-width="0.45" />
<line x1="254.87" y1="254.20" x2="254.87" y2="255.30" stroke="#444" stroke-width="0.45" />
<line x1="256.83" y1="254.20" x2="256.83" y2="255.30" stroke="#444" stroke-width="0.45" />
<line x1="258.48" y1="254.20" x2="258.48" y2="255.30" stroke="#444" stroke-width="0.45" />
<line x1="259.91" y1="254.20" x2="259.91" y2="255.30" stroke="#444" stroke-width="0.45" />
<line x1="261.17" y1="254.20" x2="261.17" y2="255.30" stroke="#444" stroke-width="0.45" />
<text x="236.72" y="261.50" font-size="5.0" text-anchor="middle" fill="#222" textLength="5.20" lengthAdjust="spacingAndGlyphs">10</text>
<text x="239.53" y="258.80" font-size="3.6" fill="#222">3</text>
<line x1="262.30" y1="254.20" x2="262.30" y2="256.20" stroke="#222" stroke-width="0.6" />
<text x="261.40" y="261.50" font-size="5.0" text-anchor="middle" fill="#222" textLength="5.20" lengthAdjust="spacingAndGlyphs">10</text>
<text x="264.20" y="258.80" font-size="3.6" fill="#222">4</text>
<text x="211.95" y="267.40" font-size="5.0" text-anchor="middle" fill="#222" textLength="27.40" lengthAdjust="spacingAndGlyphs">FL2-Height</text>
<path d="M289.50,254.20 L289.60,252.82 L289.98,252.76 L290.50,252.09 L291.08,251.26 L291.70,250.15 L292.30,249.47 L292.90,248.26 L293.49,246.90 L294.10,245.93 L294.77,243.55 L295.40,241.93 L295.88,240.33 L296.30,237.80 L296.75,233.96 L297.20,230.57 L297.65,226.72 L298.10,223.97 L298.54,219.91 L299.00,216.59 L299.50,214.80 L300.00,211.28 L300.46,209.57 L300.90,208.17 L301.35,204.86 L301.80,202.93 L302.25,200.70 L302.70,198.32 L303.15,196.30 L303.60,193.53 L304.05,192.94 L304.50,193.70 L304.95,194.60 L305.40,195.51 L305.84,195.01 L306.30,196.27 L306.80,197.92 L307.30,198.80 L307.76,200.50 L308.20,203.46 L308.65,205.24 L309.10,206.75 L309.55,210.48 L310.00,213.37 L310.45,215.28 L310.90,216.09 L311.34,219.18 L311.80,222.55 L312.30,223.70 L312.80,226.03 L313.26,229.33 L313.70,232.77 L314.15,235.66 L314.60,237.85 L315.04,239.92 L315.50,240.95 L316.04,243.16 L316.60,245.19 L317.14,246.51 L317.70,247.84 L318.33,248.85 L319.00,250.37 L319.45,250.48 L319.91,250.79 L320.40,251.46 L320.98,251.47 L321.58,251.14 L322.00,251.50 L322.90,251.85 L323.80,252.07 L324.70,252.58 L325.60,251.48 L326.50,251.56 L327.40,251.25 L328.30,251.39 L329.20,251.21 L330.10,251.45 L331.00,252.02 L331.90,252.78 L332.80,252.31 L333.70,251.81 L334.60,251.85 L335.50,252.31 L336.40,251.72 L337.30,251.32 L338.20,252.55 L339.10,252.19 L340.00,251.38 L340.90,251.31 L341.80,251.35 L342.70,252.73 L343.60,251.37 L344.50,252.20 L345.40,252.75 L346.30,251.26 L347.20,251.82 L348.10,251.96 L349.00,252.67 L349.90,251.50 L350.80,251.61 L351.70,251.60 L352.60,251.28 L353.50,252.28 L354.40,252.51 L355.30,251.90 L356.20,251.26 L357.10,252.34 L358.00,252.38 L358.90,252.25 L359.80,251.73 L360.70,252.53 L361.60,252.21 L362.50,252.14 L363.40,252.06 L364.30,251.57 L365.20,251.93 L366.10,252.47 L367.00,252.29 L367.90,251.75 L368.80,252.51 L369.70,252.54 L370.60,251.27 L371.50,251.45 L372.40,251.56 L373.30,251.22 L374.20,252.41 L375.10,252.23 L376.00,252.07 L376.90,252.79 L377.80,251.77 L378.70,251.52 L379.60,251.38 L380.50,251.74 L381.40,252.54 L382.30,252.17 L383.20,251.29 L384.10,251.89 L385.00,251.28 L385.90,252.20 L386.00,251.40 L386.00,254.20 Z" fill="#cecece" stroke="none"/>
<path d="M289.60,252.82 L289.98,252.76 L290.50,252.09 L291.08,251.26 L291.70,250.15 L292.30,249.47 L292.90,248.26 L293.49,246.90 L294.10,245.93 L294.77,243.55 L295.40,241.93 L295.88,240.33 L296.30,237.80 L296.75,233.96 L297.20,230.57 L297.65,226.72 L298.10,223.97 L298.54,219.91 L299.00,216.59 L299.50,214.80 L300.00,211.28 L300.46,209.57 L300.90,208.17 L301.35,204.86 L301.80,202.93 L302.25,200.70 L302.70,198.32 L303.15,196.30 L303.60,193.53 L304.05,192.94 L304.50,193.70 L304.95,194.60 L305.40,195.51 L305.84,195.01 L306.30,196.27 L306.80,197.92 L307.30,198.80 L307.76,200.50 L308.20,203.46 L308.65,205.24 L309.10,206.75 L309.55,210.48 L310.00,213.37 L310.45,215.28 L310.90,216.09 L311.34,219.18 L311.80,222.55 L312.30,223.70 L312.80,226.03 L313.26,229.33 L313.70,232.77 L314.15,235.66 L314.60,237.85 L315.04,239.92 L315.50,240.95 L316.04,243.16 L316.60,245.19 L317.14,246.51 L317.70,247.84 L318.33,248.85 L319.00,250.37 L319.45,250.48 L319.91,250.79 L320.40,251.46 L320.98,251.47 L321.58,251.14 L322.00,251.50 L322.90,251.85 L323.80,252.07 L324.70,252.58 L325.60,251.48 L326.50,251.56 L327.40,251.25 L328.30,251.39 L329.20,251.21 L330.10,251.45 L331.00,252.02 L331.90,252.78 L332.80,252.31 L333.70,251.81 L334.60,251.85 L335.50,252.31 L336.40,251.72 L337.30,251.32 L338.20,252.55 L339.10,252.19 L340.00,251.38 L340.90,251.31 L341.80,251.35 L342.70,252.73 L343.60,251.37 L344.50,252.20 L345.40,252.75 L346.30,251.26 L347.20,251.82 L348.10,251.96 L349.00,252.67 L349.90,251.50 L350.80,251.61 L351.70,251.60 L352.60,251.28 L353.50,252.28 L354.40,252.51 L355.30,251.90 L356.20,251.26 L357.10,252.34 L358.00,252.38 L358.90,252.25 L359.80,251.73 L360.70,252.53 L361.60,252.21 L362.50,252.14 L363.40,252.06 L364.30,251.57 L365.20,251.93 L366.10,252.47 L367.00,252.29 L367.90,251.75 L368.80,252.51 L369.70,252.54 L370.60,251.27 L371.50,251.45 L372.40,251.56 L373.30,251.22 L374.20,252.41 L375.10,252.23 L376.00,252.07 L376.90,252.79 L377.80,251.77 L378.70,251.52 L379.60,251.38 L380.50,251.74 L381.40,252.54 L382.30,252.17 L383.20,251.29 L384.10,251.89 L385.00,251.28 L385.90,252.20 L386.00,251.40" fill="none" stroke="#111" stroke-width="1.0" stroke-linejoin="round"/>
<path d="M289.20,251.91 L289.14,238.34 L289.20,227.03 L289.64,223.23 L290.20,224.58 L290.66,222.18 L291.10,220.44 L291.55,218.93 L292.00,217.40 L292.46,213.31 L292.90,210.64 L293.31,209.35 L293.70,205.71 L294.10,204.52 L294.50,202.74 L294.91,199.79 L295.30,198.19 L295.64,197.36 L296.00,197.90 L296.44,196.95 L296.90,198.41 L297.36,198.04 L297.80,198.32 L298.21,198.55 L298.60,202.00 L299.01,204.13 L299.40,205.00 L299.75,207.21 L300.00,207.59" fill="none" stroke="#3a3a3a" stroke-width="0.8" stroke-dasharray="1.0,0.7"/>
<line x1="288.90" y1="186.60" x2="386.60" y2="186.60" stroke="#777" stroke-width="0.8" />
<line x1="386.60" y1="186.60" x2="386.60" y2="254.20" stroke="#555" stroke-width="0.8" />
<line x1="288.90" y1="186.30" x2="288.90" y2="254.80" stroke="#000" stroke-width="1.3" />
<line x1="288.30" y1="254.20" x2="386.60" y2="254.20" stroke="#000" stroke-width="1.2" />
<line x1="286.40" y1="254.20" x2="288.90" y2="254.20" stroke="#111" stroke-width="0.6" />
<line x1="287.30" y1="251.50" x2="288.90" y2="251.50" stroke="#111" stroke-width="0.6" />
<line x1="287.30" y1="248.79" x2="288.90" y2="248.79" stroke="#111" stroke-width="0.6" />
<line x1="287.30" y1="246.09" x2="288.90" y2="246.09" stroke="#111" stroke-width="0.6" />
<line x1="287.30" y1="243.38" x2="288.90" y2="243.38" stroke="#111" stroke-width="0.6" />
<line x1="286.40" y1="240.68" x2="288.90" y2="240.68" stroke="#111" stroke-width="0.6" />
<line x1="287.30" y1="237.98" x2="288.90" y2="237.98" stroke="#111" stroke-width="0.6" />
<line x1="287.30" y1="235.27" x2="288.90" y2="235.27" stroke="#111" stroke-width="0.6" />
<line x1="287.30" y1="232.57" x2="288.90" y2="232.57" stroke="#111" stroke-width="0.6" />
<line x1="287.30" y1="229.86" x2="288.90" y2="229.86" stroke="#111" stroke-width="0.6" />
<line x1="286.40" y1="227.16" x2="288.90" y2="227.16" stroke="#111" stroke-width="0.6" />
<line x1="287.30" y1="224.46" x2="288.90" y2="224.46" stroke="#111" stroke-width="0.6" />
<line x1="287.30" y1="221.75" x2="288.90" y2="221.75" stroke="#111" stroke-width="0.6" />
<line x1="287.30" y1="219.05" x2="288.90" y2="219.05" stroke="#111" stroke-width="0.6" />
<line x1="287.30" y1="216.34" x2="288.90" y2="216.34" stroke="#111" stroke-width="0.6" />
<line x1="286.40" y1="213.64" x2="288.90" y2="213.64" stroke="#111" stroke-width="0.6" />
<line x1="287.30" y1="210.94" x2="288.90" y2="210.94" stroke="#111" stroke-width="0.6" />
<line x1="287.30" y1="208.23" x2="288.90" y2="208.23" stroke="#111" stroke-width="0.6" />
<line x1="287.30" y1="205.53" x2="288.90" y2="205.53" stroke="#111" stroke-width="0.6" />
<line x1="287.30" y1="202.82" x2="288.90" y2="202.82" stroke="#111" stroke-width="0.6" />
<line x1="286.40" y1="200.12" x2="288.90" y2="200.12" stroke="#111" stroke-width="0.6" />
<line x1="287.30" y1="197.42" x2="288.90" y2="197.42" stroke="#111" stroke-width="0.6" />
<line x1="287.30" y1="194.71" x2="288.90" y2="194.71" stroke="#111" stroke-width="0.6" />
<line x1="287.30" y1="192.01" x2="288.90" y2="192.01" stroke="#111" stroke-width="0.6" />
<line x1="287.30" y1="189.30" x2="288.90" y2="189.30" stroke="#111" stroke-width="0.6" />
<line x1="286.40" y1="186.60" x2="288.90" y2="186.60" stroke="#111" stroke-width="0.6" />
<text x="283.50" y="254.20" font-size="5.0" stroke="#000" stroke-width="0.12" text-anchor="middle" textLength="1.90" lengthAdjust="spacingAndGlyphs" transform="rotate(-90 283.50 254.20)">0</text>
<text x="283.50" y="240.68" font-size="5.0" stroke="#000" stroke-width="0.12" text-anchor="middle" textLength="3.80" lengthAdjust="spacingAndGlyphs" transform="rotate(-90 283.50 240.68)">10</text>
<text x="283.50" y="227.16" font-size="5.0" stroke="#000" stroke-width="0.12" text-anchor="middle" textLength="3.80" lengthAdjust="spacingAndGlyphs" transform="rotate(-90 283.50 227.16)">20</text>
<text x="283.50" y="213.64" font-size="5.0" stroke="#000" stroke-width="0.12" text-anchor="middle" textLength="3.80" lengthAdjust="spacingAndGlyphs" transform="rotate(-90 283.50 213.64)">30</text>
<text x="283.50" y="200.12" font-size="5.0" stroke="#000" stroke-width="0.12" text-anchor="middle" textLength="3.80" lengthAdjust="spacingAndGlyphs" transform="rotate(-90 283.50 200.12)">40</text>
<text x="283.50" y="186.60" font-size="5.0" stroke="#000" stroke-width="0.12" text-anchor="middle" textLength="3.80" lengthAdjust="spacingAndGlyphs" transform="rotate(-90 283.50 186.60)">50</text>
<text x="276.80" y="222.90" font-size="4.5" stroke="#000" stroke-width="0.12" text-anchor="middle" textLength="14.70" lengthAdjust="spacingAndGlyphs" transform="rotate(-90 276.80 222.90)">Counts</text>
<line x1="288.90" y1="254.20" x2="288.90" y2="256.20" stroke="#222" stroke-width="0.6" />
<line x1="296.25" y1="254.20" x2="296.25" y2="255.30" stroke="#444" stroke-width="0.45" />
<line x1="300.55" y1="254.20" x2="300.55" y2="255.30" stroke="#444" stroke-width="0.45" />
<line x1="303.61" y1="254.20" x2="303.61" y2="255.30" stroke="#444" stroke-width="0.45" />
<line x1="305.97" y1="254.20" x2="305.97" y2="255.30" stroke="#444" stroke-width="0.45" />
<line x1="307.91" y1="254.20" x2="307.91" y2="255.30" stroke="#444" stroke-width="0.45" />
<line x1="309.54" y1="254.20" x2="309.54" y2="255.30" stroke="#444" stroke-width="0.45" />
<line x1="310.96" y1="254.20" x2="310.96" y2="255.30" stroke="#444" stroke-width="0.45" />
<line x1="312.21" y1="254.20" x2="312.21" y2="255.30" stroke="#444" stroke-width="0.45" />
<text x="288.00" y="261.50" font-size="5.0" text-anchor="middle" fill="#222" textLength="5.20" lengthAdjust="spacingAndGlyphs">10</text>
<text x="290.80" y="258.80" font-size="3.6" fill="#222">0</text>
<line x1="313.32" y1="254.20" x2="313.32" y2="256.20" stroke="#222" stroke-width="0.6" />
<line x1="320.68" y1="254.20" x2="320.68" y2="255.30" stroke="#444" stroke-width="0.45" />
<line x1="324.98" y1="254.20" x2="324.98" y2="255.30" stroke="#444" stroke-width="0.45" />
<line x1="328.03" y1="254.20" x2="328.03" y2="255.30" stroke="#444" stroke-width="0.45" />
<line x1="330.40" y1="254.20" x2="330.40" y2="255.30" stroke="#444" stroke-width="0.45" />
<line x1="332.33" y1="254.20" x2="332.33" y2="255.30" stroke="#444" stroke-width="0.45" />
<line x1="333.97" y1="254.20" x2="333.97" y2="255.30" stroke="#444" stroke-width="0.45" />
<line x1="335.38" y1="254.20" x2="335.38" y2="255.30" stroke="#444" stroke-width="0.45" />
<line x1="336.63" y1="254.20" x2="336.63" y2="255.30" stroke="#444" stroke-width="0.45" />
<text x="312.43" y="261.50" font-size="5.0" text-anchor="middle" fill="#222" textLength="5.20" lengthAdjust="spacingAndGlyphs">10</text>
<text x="315.22" y="258.80" font-size="3.6" fill="#222">1</text>
<line x1="337.75" y1="254.20" x2="337.75" y2="256.20" stroke="#222" stroke-width="0.6" />
<line x1="345.10" y1="254.20" x2="345.10" y2="255.30" stroke="#444" stroke-width="0.45" />
<line x1="349.40" y1="254.20" x2="349.40" y2="255.30" stroke="#444" stroke-width="0.45" />
<line x1="352.46" y1="254.20" x2="352.46" y2="255.30" stroke="#444" stroke-width="0.45" />
<line x1="354.82" y1="254.20" x2="354.82" y2="255.30" stroke="#444" stroke-width="0.45" />
<line x1="356.76" y1="254.20" x2="356.76" y2="255.30" stroke="#444" stroke-width="0.45" />
<line x1="358.39" y1="254.20" x2="358.39" y2="255.30" stroke="#444" stroke-width="0.45" />
<line x1="359.81" y1="254.20" x2="359.81" y2="255.30" stroke="#444" stroke-width="0.45" />
<line x1="361.06" y1="254.20" x2="361.06" y2="255.30" stroke="#444" stroke-width="0.45" />
<text x="336.85" y="261.50" font-size="5.0" text-anchor="middle" fill="#222" textLength="5.20" lengthAdjust="spacingAndGlyphs">10</text>
<text x="339.65" y="258.80" font-size="3.6" fill="#222">2</text>
<line x1="362.18" y1="254.20" x2="362.18" y2="256.20" stroke="#222" stroke-width="0.6" />
<line x1="369.53" y1="254.20" x2="369.53" y2="255.30" stroke="#444" stroke-width="0.45" />
<line x1="373.83" y1="254.20" x2="373.83" y2="255.30" stroke="#444" stroke-width="0.45" />
<line x1="376.88" y1="254.20" x2="376.88" y2="255.30" stroke="#444" stroke-width="0.45" />
<line x1="379.25" y1="254.20" x2="379.25" y2="255.30" stroke="#444" stroke-width="0.45" />
<line x1="381.18" y1="254.20" x2="381.18" y2="255.30" stroke="#444" stroke-width="0.45" />
<line x1="382.82" y1="254.20" x2="382.82" y2="255.30" stroke="#444" stroke-width="0.45" />
<line x1="384.23" y1="254.20" x2="384.23" y2="255.30" stroke="#444" stroke-width="0.45" />
<line x1="385.48" y1="254.20" x2="385.48" y2="255.30" stroke="#444" stroke-width="0.45" />
<text x="361.28" y="261.50" font-size="5.0" text-anchor="middle" fill="#222" textLength="5.20" lengthAdjust="spacingAndGlyphs">10</text>
<text x="364.07" y="258.80" font-size="3.6" fill="#222">3</text>
<line x1="386.60" y1="254.20" x2="386.60" y2="256.20" stroke="#222" stroke-width="0.6" />
<text x="385.70" y="261.50" font-size="5.0" text-anchor="middle" fill="#222" textLength="5.20" lengthAdjust="spacingAndGlyphs">10</text>
<text x="388.50" y="258.80" font-size="3.6" fill="#222">4</text>
<text x="336.75" y="267.40" font-size="5.0" text-anchor="middle" fill="#222" textLength="27.40" lengthAdjust="spacingAndGlyphs">FL2-Height</text>
<path d="M411.40,254.20 L411.50,252.51 L411.74,252.05 L412.30,251.93 L412.71,251.92 L413.24,252.03 L413.81,252.07 L414.36,252.06 L414.80,251.41 L415.48,250.92 L416.00,249.99 L416.62,248.22 L417.20,246.62 L417.67,246.18 L418.10,245.27 L418.54,243.52 L419.00,241.73 L419.50,240.02 L420.00,236.88 L420.46,234.90 L420.90,232.05 L421.35,230.86 L421.80,228.03 L422.25,225.95 L422.70,223.81 L423.15,220.24 L423.60,217.92 L424.05,215.29 L424.50,212.90 L424.95,210.80 L425.40,207.15 L425.84,206.26 L426.30,203.00 L426.80,199.33 L427.30,197.41 L427.74,194.86 L428.20,193.31 L428.78,191.18 L429.40,191.51 L430.02,190.11 L430.60,191.11 L431.07,191.40 L431.50,193.33 L431.95,195.41 L432.40,197.75 L432.84,201.01 L433.30,202.42 L433.80,204.11 L434.30,207.53 L434.76,210.49 L435.20,212.53 L435.65,213.94 L436.10,217.48 L436.55,220.79 L437.00,224.89 L437.44,227.30 L437.90,230.95 L438.40,233.52 L438.90,235.72 L439.36,238.48 L439.80,241.12 L440.25,243.16 L440.70,245.03 L441.13,245.79 L441.60,247.26 L442.18,248.92 L442.80,250.03 L443.35,251.12 L444.00,251.45 L444.49,251.77 L445.07,251.64 L445.62,251.52 L446.00,252.14 L446.90,252.08 L447.80,251.41 L448.70,252.34 L449.60,251.68 L450.50,252.70 L451.40,251.51 L452.30,252.42 L453.20,251.47 L454.10,252.75 L455.00,252.60 L455.90,251.37 L456.80,252.24 L457.70,251.55 L458.60,252.02 L459.50,252.56 L460.40,251.45 L461.30,251.55 L462.20,251.32 L463.10,251.30 L464.00,252.00 L464.90,251.46 L465.80,251.41 L466.70,252.32 L467.60,251.67 L468.50,251.74 L469.40,251.74 L470.30,252.55 L471.20,251.64 L472.10,252.24 L473.00,252.70 L473.90,252.11 L474.80,251.65 L475.70,251.42 L476.60,252.24 L477.50,251.48 L478.40,251.84 L479.30,252.50 L480.20,252.45 L481.10,251.64 L482.00,251.79 L482.90,251.66 L483.80,251.67 L484.70,252.00 L485.60,251.39 L486.50,251.38 L487.40,251.44 L488.30,251.73 L489.20,252.06 L490.10,251.71 L491.00,251.89 L491.90,252.44 L492.80,252.45 L493.70,251.88 L494.60,252.62 L495.50,251.20 L496.40,252.13 L497.30,252.29 L498.20,251.85 L499.10,251.88 L500.00,251.61 L500.90,252.43 L501.80,251.51 L502.70,252.10 L503.60,252.34 L504.50,252.53 L505.40,252.68 L506.30,251.46 L507.20,251.45 L508.10,251.64 L509.00,252.52 L509.90,252.13 L509.90,252.37 L509.90,254.20 Z" fill="#cecece" stroke="none"/>
<path d="M411.50,252.51 L411.74,252.05 L412.30,251.93 L412.71,251.92 L413.24,252.03 L413.81,252.07 L414.36,252.06 L414.80,251.41 L415.48,250.92 L416.00,249.99 L416.62,248.22 L417.20,246.62 L417.67,246.18 L418.10,245.27 L418.54,243.52 L419.00,241.73 L419.50,240.02 L420.00,236.88 L420.46,234.90 L420.90,232.05 L421.35,230.86 L421.80,228.03 L422.25,225.95 L422.70,223.81 L423.15,220.24 L423.60,217.92 L424.05,215.29 L424.50,212.90 L424.95,210.80 L425.40,207.15 L425.84,206.26 L426.30,203.00 L426.80,199.33 L427.30,197.41 L427.74,194.86 L428.20,193.31 L428.78,191.18 L429.40,191.51 L430.02,190.11 L430.60,191.11 L431.07,191.40 L431.50,193.33 L431.95,195.41 L432.40,197.75 L432.84,201.01 L433.30,202.42 L433.80,204.11 L434.30,207.53 L434.76,210.49 L435.20,212.53 L435.65,213.94 L436.10,217.48 L436.55,220.79 L437.00,224.89 L437.44,227.30 L437.90,230.95 L438.40,233.52 L438.90,235.72 L439.36,238.48 L439.80,241.12 L440.25,243.16 L440.70,245.03 L441.13,245.79 L441.60,247.26 L442.18,248.92 L442.80,250.03 L443.35,251.12 L444.00,251.45 L444.49,251.77 L445.07,251.64 L445.62,251.52 L446.00,252.14 L446.90,252.08 L447.80,251.41 L448.70,252.34 L449.60,251.68 L450.50,252.70 L451.40,251.51 L452.30,252.42 L453.20,251.47 L454.10,252.75 L455.00,252.60 L455.90,251.37 L456.80,252.24 L457.70,251.55 L458.60,252.02 L459.50,252.56 L460.40,251.45 L461.30,251.55 L462.20,251.32 L463.10,251.30 L464.00,252.00 L464.90,251.46 L465.80,251.41 L466.70,252.32 L467.60,251.67 L468.50,251.74 L469.40,251.74 L470.30,252.55 L471.20,251.64 L472.10,252.24 L473.00,252.70 L473.90,252.11 L474.80,251.65 L475.70,251.42 L476.60,252.24 L477.50,251.48 L478.40,251.84 L479.30,252.50 L480.20,252.45 L481.10,251.64 L482.00,251.79 L482.90,251.66 L483.80,251.67 L484.70,252.00 L485.60,251.39 L486.50,251.38 L487.40,251.44 L488.30,251.73 L489.20,252.06 L490.10,251.71 L491.00,251.89 L491.90,252.44 L492.80,252.45 L493.70,251.88 L494.60,252.62 L495.50,251.20 L496.40,252.13 L497.30,252.29 L498.20,251.85 L499.10,251.88 L500.00,251.61 L500.90,252.43 L501.80,251.51 L502.70,252.10 L503.60,252.34 L504.50,252.53 L505.40,252.68 L506.30,251.46 L507.20,251.45 L508.10,251.64 L509.00,252.52 L509.90,252.13 L509.90,252.37" fill="none" stroke="#111" stroke-width="1.0" stroke-linejoin="round"/>
<path d="M411.20,251.80 L411.13,241.39 L411.20,228.43 L411.69,224.52 L412.30,224.65 L412.76,223.73 L413.20,221.87 L413.64,218.93 L414.10,218.47 L414.60,215.48 L415.10,212.61 L415.58,211.59 L416.00,209.27 L416.32,205.45 L416.60,201.07 L416.88,200.24 L417.20,197.31 L417.69,197.15 L418.20,196.24 L418.57,197.21 L418.90,198.14 L419.24,198.74 L419.60,199.99 L420.03,201.42 L420.50,200.89 L421.01,200.28 L421.50,202.70 L421.92,205.65 L422.30,205.68 L422.64,208.30 L423.00,208.60 L423.54,210.03 L424.00,211.56" fill="none" stroke="#3a3a3a" stroke-width="0.8" stroke-dasharray="1.0,0.7"/>
<line x1="410.80" y1="186.40" x2="510.50" y2="186.40" stroke="#777" stroke-width="0.8" />
<line x1="510.50" y1="186.40" x2="510.50" y2="254.20" stroke="#555" stroke-width="0.8" />
<line x1="410.80" y1="186.10" x2="410.80" y2="254.80" stroke="#000" stroke-width="1.3" />
<line x1="410.20" y1="254.20" x2="510.50" y2="254.20" stroke="#000" stroke-width="1.2" />
<line x1="408.30" y1="254.20" x2="410.80" y2="254.20" stroke="#111" stroke-width="0.6" />
<line x1="409.20" y1="251.49" x2="410.80" y2="251.49" stroke="#111" stroke-width="0.6" />
<line x1="409.20" y1="248.78" x2="410.80" y2="248.78" stroke="#111" stroke-width="0.6" />
<line x1="409.20" y1="246.06" x2="410.80" y2="246.06" stroke="#111" stroke-width="0.6" />
<line x1="409.20" y1="243.35" x2="410.80" y2="243.35" stroke="#111" stroke-width="0.6" />
<line x1="408.30" y1="240.64" x2="410.80" y2="240.64" stroke="#111" stroke-width="0.6" />
<line x1="409.20" y1="237.93" x2="410.80" y2="237.93" stroke="#111" stroke-width="0.6" />
<line x1="409.20" y1="235.22" x2="410.80" y2="235.22" stroke="#111" stroke-width="0.6" />
<line x1="409.20" y1="232.50" x2="410.80" y2="232.50" stroke="#111" stroke-width="0.6" />
<line x1="409.20" y1="229.79" x2="410.80" y2="229.79" stroke="#111" stroke-width="0.6" />
<line x1="408.30" y1="227.08" x2="410.80" y2="227.08" stroke="#111" stroke-width="0.6" />
<line x1="409.20" y1="224.37" x2="410.80" y2="224.37" stroke="#111" stroke-width="0.6" />
<line x1="409.20" y1="221.66" x2="410.80" y2="221.66" stroke="#111" stroke-width="0.6" />
<line x1="409.20" y1="218.94" x2="410.80" y2="218.94" stroke="#111" stroke-width="0.6" />
<line x1="409.20" y1="216.23" x2="410.80" y2="216.23" stroke="#111" stroke-width="0.6" />
<line x1="408.30" y1="213.52" x2="410.80" y2="213.52" stroke="#111" stroke-width="0.6" />
<line x1="409.20" y1="210.81" x2="410.80" y2="210.81" stroke="#111" stroke-width="0.6" />
<line x1="409.20" y1="208.10" x2="410.80" y2="208.10" stroke="#111" stroke-width="0.6" />
<line x1="409.20" y1="205.38" x2="410.80" y2="205.38" stroke="#111" stroke-width="0.6" />
<line x1="409.20" y1="202.67" x2="410.80" y2="202.67" stroke="#111" stroke-width="0.6" />
<line x1="408.30" y1="199.96" x2="410.80" y2="199.96" stroke="#111" stroke-width="0.6" />
<line x1="409.20" y1="197.25" x2="410.80" y2="197.25" stroke="#111" stroke-width="0.6" />
<line x1="409.20" y1="194.54" x2="410.80" y2="194.54" stroke="#111" stroke-width="0.6" />
<line x1="409.20" y1="191.82" x2="410.80" y2="191.82" stroke="#111" stroke-width="0.6" />
<line x1="409.20" y1="189.11" x2="410.80" y2="189.11" stroke="#111" stroke-width="0.6" />
<line x1="408.30" y1="186.40" x2="410.80" y2="186.40" stroke="#111" stroke-width="0.6" />
<text x="405.40" y="254.20" font-size="5.0" stroke="#000" stroke-width="0.12" text-anchor="middle" textLength="1.90" lengthAdjust="spacingAndGlyphs" transform="rotate(-90 405.40 254.20)">0</text>
<text x="405.40" y="240.64" font-size="5.0" stroke="#000" stroke-width="0.12" text-anchor="middle" textLength="3.80" lengthAdjust="spacingAndGlyphs" transform="rotate(-90 405.40 240.64)">10</text>
<text x="405.40" y="227.08" font-size="5.0" stroke="#000" stroke-width="0.12" text-anchor="middle" textLength="3.80" lengthAdjust="spacingAndGlyphs" transform="rotate(-90 405.40 227.08)">20</text>
<text x="405.40" y="213.52" font-size="5.0" stroke="#000" stroke-width="0.12" text-anchor="middle" textLength="3.80" lengthAdjust="spacingAndGlyphs" transform="rotate(-90 405.40 213.52)">30</text>
<text x="405.40" y="199.96" font-size="5.0" stroke="#000" stroke-width="0.12" text-anchor="middle" textLength="3.80" lengthAdjust="spacingAndGlyphs" transform="rotate(-90 405.40 199.96)">40</text>
<text x="405.40" y="186.40" font-size="5.0" stroke="#000" stroke-width="0.12" text-anchor="middle" textLength="3.80" lengthAdjust="spacingAndGlyphs" transform="rotate(-90 405.40 186.40)">50</text>
<text x="398.70" y="222.80" font-size="4.5" stroke="#000" stroke-width="0.12" text-anchor="middle" textLength="14.70" lengthAdjust="spacingAndGlyphs" transform="rotate(-90 398.70 222.80)">Counts</text>
<line x1="410.80" y1="254.20" x2="410.80" y2="256.20" stroke="#222" stroke-width="0.6" />
<line x1="418.30" y1="254.20" x2="418.30" y2="255.30" stroke="#444" stroke-width="0.45" />
<line x1="422.69" y1="254.20" x2="422.69" y2="255.30" stroke="#444" stroke-width="0.45" />
<line x1="425.81" y1="254.20" x2="425.81" y2="255.30" stroke="#444" stroke-width="0.45" />
<line x1="428.22" y1="254.20" x2="428.22" y2="255.30" stroke="#444" stroke-width="0.45" />
<line x1="430.20" y1="254.20" x2="430.20" y2="255.30" stroke="#444" stroke-width="0.45" />
<line x1="431.86" y1="254.20" x2="431.86" y2="255.30" stroke="#444" stroke-width="0.45" />
<line x1="433.31" y1="254.20" x2="433.31" y2="255.30" stroke="#444" stroke-width="0.45" />
<line x1="434.58" y1="254.20" x2="434.58" y2="255.30" stroke="#444" stroke-width="0.45" />
<text x="409.90" y="261.50" font-size="5.0" text-anchor="middle" fill="#222" textLength="5.20" lengthAdjust="spacingAndGlyphs">10</text>
<text x="412.70" y="258.80" font-size="3.6" fill="#222">0</text>
<line x1="435.73" y1="254.20" x2="435.73" y2="256.20" stroke="#222" stroke-width="0.6" />
<line x1="443.23" y1="254.20" x2="443.23" y2="255.30" stroke="#444" stroke-width="0.45" />
<line x1="447.62" y1="254.20" x2="447.62" y2="255.30" stroke="#444" stroke-width="0.45" />
<line x1="450.73" y1="254.20" x2="450.73" y2="255.30" stroke="#444" stroke-width="0.45" />
<line x1="453.15" y1="254.20" x2="453.15" y2="255.30" stroke="#444" stroke-width="0.45" />
<line x1="455.12" y1="254.20" x2="455.12" y2="255.30" stroke="#444" stroke-width="0.45" />
<line x1="456.79" y1="254.20" x2="456.79" y2="255.30" stroke="#444" stroke-width="0.45" />
<line x1="458.23" y1="254.20" x2="458.23" y2="255.30" stroke="#444" stroke-width="0.45" />
<line x1="459.51" y1="254.20" x2="459.51" y2="255.30" stroke="#444" stroke-width="0.45" />
<text x="434.83" y="261.50" font-size="5.0" text-anchor="middle" fill="#222" textLength="5.20" lengthAdjust="spacingAndGlyphs">10</text>
<text x="437.62" y="258.80" font-size="3.6" fill="#222">1</text>
<line x1="460.65" y1="254.20" x2="460.65" y2="256.20" stroke="#222" stroke-width="0.6" />
<line x1="468.15" y1="254.20" x2="468.15" y2="255.30" stroke="#444" stroke-width="0.45" />
<line x1="472.54" y1="254.20" x2="472.54" y2="255.30" stroke="#444" stroke-width="0.45" />
<line x1="475.66" y1="254.20" x2="475.66" y2="255.30" stroke="#444" stroke-width="0.45" />
<line x1="478.07" y1="254.20" x2="478.07" y2="255.30" stroke="#444" stroke-width="0.45" />
<line x1="480.05" y1="254.20" x2="480.05" y2="255.30" stroke="#444" stroke-width="0.45" />
<line x1="481.71" y1="254.20" x2="481.71" y2="255.30" stroke="#444" stroke-width="0.45" />
<line x1="483.16" y1="254.20" x2="483.16" y2="255.30" stroke="#444" stroke-width="0.45" />
<line x1="484.43" y1="254.20" x2="484.43" y2="255.30" stroke="#444" stroke-width="0.45" />
<text x="459.75" y="261.50" font-size="5.0" text-anchor="middle" fill="#222" textLength="5.20" lengthAdjust="spacingAndGlyphs">10</text>
<text x="462.55" y="258.80" font-size="3.6" fill="#222">2</text>
<line x1="485.57" y1="254.20" x2="485.57" y2="256.20" stroke="#222" stroke-width="0.6" />
<line x1="493.08" y1="254.20" x2="493.08" y2="255.30" stroke="#444" stroke-width="0.45" />
<line x1="497.47" y1="254.20" x2="497.47" y2="255.30" stroke="#444" stroke-width="0.45" />
<line x1="500.58" y1="254.20" x2="500.58" y2="255.30" stroke="#444" stroke-width="0.45" />
<line x1="503.00" y1="254.20" x2="503.00" y2="255.30" stroke="#444" stroke-width="0.45" />
<line x1="504.97" y1="254.20" x2="504.97" y2="255.30" stroke="#444" stroke-width="0.45" />
<line x1="506.64" y1="254.20" x2="506.64" y2="255.30" stroke="#444" stroke-width="0.45" />
<line x1="508.08" y1="254.20" x2="508.08" y2="255.30" stroke="#444" stroke-width="0.45" />
<line x1="509.36" y1="254.20" x2="509.36" y2="255.30" stroke="#444" stroke-width="0.45" />
<text x="484.68" y="261.50" font-size="5.0" text-anchor="middle" fill="#222" textLength="5.20" lengthAdjust="spacingAndGlyphs">10</text>
<text x="487.47" y="258.80" font-size="3.6" fill="#222">3</text>
<line x1="510.50" y1="254.20" x2="510.50" y2="256.20" stroke="#222" stroke-width="0.6" />
<text x="509.60" y="261.50" font-size="5.0" text-anchor="middle" fill="#222" textLength="5.20" lengthAdjust="spacingAndGlyphs">10</text>
<text x="512.40" y="258.80" font-size="3.6" fill="#222">4</text>
<text x="459.65" y="267.40" font-size="5.0" text-anchor="middle" fill="#222" textLength="27.40" lengthAdjust="spacingAndGlyphs">FL2-Height</text>
<path d="M40.40,384.40 L40.30,378.16 L40.37,376.86 L40.60,375.70 L41.21,373.01 L41.90,370.19 L42.37,368.52 L42.80,365.10 L43.30,362.13 L43.80,360.12 L44.25,356.69 L44.70,354.89 L45.22,352.60 L45.70,348.05 L46.03,344.41 L46.30,342.29 L46.60,339.03 L46.90,338.33 L47.19,337.98 L47.50,335.53 L47.83,333.23 L48.20,330.70 L48.64,330.38 L49.10,329.11 L49.54,327.35 L50.00,325.95 L50.50,325.98 L51.00,328.11 L51.46,328.52 L51.90,330.88 L52.34,329.82 L52.80,332.23 L53.30,332.39 L53.80,334.69 L54.25,335.90 L54.70,336.77 L55.20,340.33 L55.70,341.12 L56.15,343.53 L56.60,342.84 L57.08,346.39 L57.60,344.99 L58.18,346.96 L58.80,350.46 L59.45,352.00 L60.10,354.79 L60.70,357.10 L61.30,360.33 L61.94,362.54 L62.60,365.49 L63.26,366.15 L63.90,368.58 L64.51,371.46 L65.10,373.38 L65.69,375.27 L66.30,376.89 L66.91,378.40 L67.60,379.08 L68.01,379.54 L68.46,379.64 L68.93,379.75 L69.40,381.16 L69.85,381.42 L70.31,381.76 L70.78,381.81 L71.30,381.16 L71.76,381.25 L72.25,382.30 L72.76,382.73 L73.28,382.63 L73.80,382.38 L74.36,382.00 L74.96,382.06 L75.54,382.46 L76.04,381.93 L76.40,382.57 L77.30,382.81 L78.20,383.08 L79.10,382.77 L80.00,383.31 L80.90,382.97 L81.80,382.83 L82.70,383.40 L83.60,383.29 L84.50,383.36 L85.40,383.17 L86.30,382.69 L87.20,382.89 L88.10,382.74 L89.00,383.29 L89.90,382.51 L90.80,383.29 L91.70,382.67 L92.60,382.81 L93.50,383.13 L94.40,383.17 L95.30,383.01 L96.20,383.06 L97.10,383.09 L98.00,383.10 L98.90,382.61 L99.80,382.80 L100.70,382.52 L101.60,383.07 L102.50,382.79 L103.40,382.74 L104.30,382.77 L105.20,383.44 L106.10,382.63 L107.00,383.40 L107.90,383.40 L108.80,382.70 L109.70,383.33 L110.60,382.70 L111.50,383.15 L112.40,382.62 L113.30,382.82 L114.20,382.99 L115.10,382.88 L116.00,383.33 L116.90,383.15 L117.80,382.53 L118.70,383.06 L119.60,382.59 L120.50,382.67 L121.40,382.89 L122.30,382.82 L123.20,383.06 L124.10,383.48 L125.00,383.28 L125.90,383.05 L126.80,383.34 L127.70,382.67 L128.60,383.22 L129.50,383.47 L130.40,383.44 L131.30,383.01 L132.20,383.09 L133.10,382.88 L134.00,382.94 L134.90,383.49 L135.00,382.63 L135.00,384.40 Z" fill="#686868" stroke="none"/>
<path d="M40.30,378.16 L40.37,376.86 L40.60,375.70 L41.21,373.01 L41.90,370.19 L42.37,368.52 L42.80,365.10 L43.30,362.13 L43.80,360.12 L44.25,356.69 L44.70,354.89 L45.22,352.60 L45.70,348.05 L46.03,344.41 L46.30,342.29 L46.60,339.03 L46.90,338.33 L47.19,337.98 L47.50,335.53 L47.83,333.23 L48.20,330.70 L48.64,330.38 L49.10,329.11 L49.54,327.35 L50.00,325.95 L50.50,325.98 L51.00,328.11 L51.46,328.52 L51.90,330.88 L52.34,329.82 L52.80,332.23 L53.30,332.39 L53.80,334.69 L54.25,335.90 L54.70,336.77 L55.20,340.33 L55.70,341.12 L56.15,343.53 L56.60,342.84 L57.08,346.39 L57.60,344.99 L58.18,346.96 L58.80,350.46 L59.45,352.00 L60.10,354.79 L60.70,357.10 L61.30,360.33 L61.94,362.54 L62.60,365.49 L63.26,366.15 L63.90,368.58 L64.51,371.46 L65.10,373.38 L65.69,375.27 L66.30,376.89 L66.91,378.40 L67.60,379.08 L68.01,379.54 L68.46,379.64 L68.93,379.75 L69.40,381.16 L69.85,381.42 L70.31,381.76 L70.78,381.81 L71.30,381.16 L71.76,381.25 L72.25,382.30 L72.76,382.73 L73.28,382.63 L73.80,382.38 L74.36,382.00 L74.96,382.06 L75.54,382.46 L76.04,381.93 L76.40,382.57 L77.30,382.81 L78.20,383.08 L79.10,382.77 L80.00,383.31 L80.90,382.97 L81.80,382.83 L82.70,383.40 L83.60,383.29 L84.50,383.36 L85.40,383.17 L86.30,382.69 L87.20,382.89 L88.10,382.74 L89.00,383.29 L89.90,382.51 L90.80,383.29 L91.70,382.67 L92.60,382.81 L93.50,383.13 L94.40,383.17 L95.30,383.01 L96.20,383.06 L97.10,383.09 L98.00,383.10 L98.90,382.61 L99.80,382.80 L100.70,382.52 L101.60,383.07 L102.50,382.79 L103.40,382.74 L104.30,382.77 L105.20,383.44 L106.10,382.63 L107.00,383.40 L107.90,383.40 L108.80,382.70 L109.70,383.33 L110.60,382.70 L111.50,383.15 L112.40,382.62 L113.30,382.82 L114.20,382.99 L115.10,382.88 L116.00,383.33 L116.90,383.15 L117.80,382.53 L118.70,383.06 L119.60,382.59 L120.50,382.67 L121.40,382.89 L122.30,382.82 L123.20,383.06 L124.10,383.48 L125.00,383.28 L125.90,383.05 L126.80,383.34 L127.70,382.67 L128.60,383.22 L129.50,383.47 L130.40,383.44 L131.30,383.01 L132.20,383.09 L133.10,382.88 L134.00,382.94 L134.90,383.49 L135.00,382.63" fill="none" stroke="#111" stroke-width="1.0" stroke-linejoin="round"/>
<path d="M40.20,332.03 L40.54,330.03 L41.00,328.77 L41.49,327.20 L42.00,324.81 L42.50,324.83 L43.00,323.32 L43.50,322.47 L44.00,320.10 L44.49,319.74 L45.00,318.67 L45.58,318.25 L46.20,317.76 L46.88,317.41 L47.50,319.10 L47.89,320.07 L48.20,321.87 L48.54,323.93 L48.80,325.16" fill="none" stroke="#8a8a8a" stroke-width="0.8" stroke-dasharray="1.0,0.7"/>
<line x1="39.80" y1="316.40" x2="135.60" y2="316.40" stroke="#777" stroke-width="0.8" />
<line x1="135.60" y1="316.40" x2="135.60" y2="384.40" stroke="#555" stroke-width="0.8" />
<line x1="39.80" y1="316.10" x2="39.80" y2="385.00" stroke="#000" stroke-width="1.3" />
<line x1="39.20" y1="384.40" x2="135.60" y2="384.40" stroke="#000" stroke-width="1.2" />
<line x1="37.30" y1="384.40" x2="39.80" y2="384.40" stroke="#111" stroke-width="0.6" />
<line x1="38.20" y1="381.68" x2="39.80" y2="381.68" stroke="#111" stroke-width="0.6" />
<line x1="38.20" y1="378.96" x2="39.80" y2="378.96" stroke="#111" stroke-width="0.6" />
<line x1="38.20" y1="376.24" x2="39.80" y2="376.24" stroke="#111" stroke-width="0.6" />
<line x1="38.20" y1="373.52" x2="39.80" y2="373.52" stroke="#111" stroke-width="0.6" />
<line x1="37.30" y1="370.80" x2="39.80" y2="370.80" stroke="#111" stroke-width="0.6" />
<line x1="38.20" y1="368.08" x2="39.80" y2="368.08" stroke="#111" stroke-width="0.6" />
<line x1="38.20" y1="365.36" x2="39.80" y2="365.36" stroke="#111" stroke-width="0.6" />
<line x1="38.20" y1="362.64" x2="39.80" y2="362.64" stroke="#111" stroke-width="0.6" />
<line x1="38.20" y1="359.92" x2="39.80" y2="359.92" stroke="#111" stroke-width="0.6" />
<line x1="37.30" y1="357.20" x2="39.80" y2="357.20" stroke="#111" stroke-width="0.6" />
<line x1="38.20" y1="354.48" x2="39.80" y2="354.48" stroke="#111" stroke-width="0.6" />
<line x1="38.20" y1="351.76" x2="39.80" y2="351.76" stroke="#111" stroke-width="0.6" />
<line x1="38.20" y1="349.04" x2="39.80" y2="349.04" stroke="#111" stroke-width="0.6" />
<line x1="38.20" y1="346.32" x2="39.80" y2="346.32" stroke="#111" stroke-width="0.6" />
<line x1="37.30" y1="343.60" x2="39.80" y2="343.60" stroke="#111" stroke-width="0.6" />
<line x1="38.20" y1="340.88" x2="39.80" y2="340.88" stroke="#111" stroke-width="0.6" />
<line x1="38.20" y1="338.16" x2="39.80" y2="338.16" stroke="#111" stroke-width="0.6" />
<line x1="38.20" y1="335.44" x2="39.80" y2="335.44" stroke="#111" stroke-width="0.6" />
<line x1="38.20" y1="332.72" x2="39.80" y2="332.72" stroke="#111" stroke-width="0.6" />
<line x1="37.30" y1="330.00" x2="39.80" y2="330.00" stroke="#111" stroke-width="0.6" />
<line x1="38.20" y1="327.28" x2="39.80" y2="327.28" stroke="#111" stroke-width="0.6" />
<line x1="38.20" y1="324.56" x2="39.80" y2="324.56" stroke="#111" stroke-width="0.6" />
<line x1="38.20" y1="321.84" x2="39.80" y2="321.84" stroke="#111" stroke-width="0.6" />
<line x1="38.20" y1="319.12" x2="39.80" y2="319.12" stroke="#111" stroke-width="0.6" />
<line x1="37.30" y1="316.40" x2="39.80" y2="316.40" stroke="#111" stroke-width="0.6" />
<text x="34.40" y="384.40" font-size="5.0" stroke="#000" stroke-width="0.12" text-anchor="middle" textLength="1.90" lengthAdjust="spacingAndGlyphs" transform="rotate(-90 34.40 384.40)">0</text>
<text x="34.40" y="370.80" font-size="5.0" stroke="#000" stroke-width="0.12" text-anchor="middle" textLength="3.80" lengthAdjust="spacingAndGlyphs" transform="rotate(-90 34.40 370.80)">10</text>
<text x="34.40" y="357.20" font-size="5.0" stroke="#000" stroke-width="0.12" text-anchor="middle" textLength="3.80" lengthAdjust="spacingAndGlyphs" transform="rotate(-90 34.40 357.20)">20</text>
<text x="34.40" y="343.60" font-size="5.0" stroke="#000" stroke-width="0.12" text-anchor="middle" textLength="3.80" lengthAdjust="spacingAndGlyphs" transform="rotate(-90 34.40 343.60)">30</text>
<text x="34.40" y="330.00" font-size="5.0" stroke="#000" stroke-width="0.12" text-anchor="middle" textLength="3.80" lengthAdjust="spacingAndGlyphs" transform="rotate(-90 34.40 330.00)">40</text>
<text x="34.40" y="316.40" font-size="5.0" stroke="#000" stroke-width="0.12" text-anchor="middle" textLength="3.80" lengthAdjust="spacingAndGlyphs" transform="rotate(-90 34.40 316.40)">50</text>
<text x="27.70" y="352.90" font-size="4.5" stroke="#000" stroke-width="0.12" text-anchor="middle" textLength="14.70" lengthAdjust="spacingAndGlyphs" transform="rotate(-90 27.70 352.90)">Counts</text>
<line x1="39.80" y1="384.40" x2="39.80" y2="386.40" stroke="#222" stroke-width="0.6" />
<line x1="47.01" y1="384.40" x2="47.01" y2="385.50" stroke="#444" stroke-width="0.45" />
<line x1="51.23" y1="384.40" x2="51.23" y2="385.50" stroke="#444" stroke-width="0.45" />
<line x1="54.22" y1="384.40" x2="54.22" y2="385.50" stroke="#444" stroke-width="0.45" />
<line x1="56.54" y1="384.40" x2="56.54" y2="385.50" stroke="#444" stroke-width="0.45" />
<line x1="58.44" y1="384.40" x2="58.44" y2="385.50" stroke="#444" stroke-width="0.45" />
<line x1="60.04" y1="384.40" x2="60.04" y2="385.50" stroke="#444" stroke-width="0.45" />
<line x1="61.43" y1="384.40" x2="61.43" y2="385.50" stroke="#444" stroke-width="0.45" />
<line x1="62.65" y1="384.40" x2="62.65" y2="385.50" stroke="#444" stroke-width="0.45" />
<text x="38.90" y="391.70" font-size="5.0" text-anchor="middle" fill="#222" textLength="5.20" lengthAdjust="spacingAndGlyphs">10</text>
<text x="41.70" y="389.00" font-size="3.6" fill="#222">0</text>
<line x1="63.75" y1="384.40" x2="63.75" y2="386.40" stroke="#222" stroke-width="0.6" />
<line x1="70.96" y1="384.40" x2="70.96" y2="385.50" stroke="#444" stroke-width="0.45" />
<line x1="75.18" y1="384.40" x2="75.18" y2="385.50" stroke="#444" stroke-width="0.45" />
<line x1="78.17" y1="384.40" x2="78.17" y2="385.50" stroke="#444" stroke-width="0.45" />
<line x1="80.49" y1="384.40" x2="80.49" y2="385.50" stroke="#444" stroke-width="0.45" />
<line x1="82.39" y1="384.40" x2="82.39" y2="385.50" stroke="#444" stroke-width="0.45" />
<line x1="83.99" y1="384.40" x2="83.99" y2="385.50" stroke="#444" stroke-width="0.45" />
<line x1="85.38" y1="384.40" x2="85.38" y2="385.50" stroke="#444" stroke-width="0.45" />
<line x1="86.60" y1="384.40" x2="86.60" y2="385.50" stroke="#444" stroke-width="0.45" />
<text x="62.85" y="391.70" font-size="5.0" text-anchor="middle" fill="#222" textLength="5.20" lengthAdjust="spacingAndGlyphs">10</text>
<text x="65.65" y="389.00" font-size="3.6" fill="#222">1</text>
<line x1="87.70" y1="384.40" x2="87.70" y2="386.40" stroke="#222" stroke-width="0.6" />
<line x1="94.91" y1="384.40" x2="94.91" y2="385.50" stroke="#444" stroke-width="0.45" />
<line x1="99.13" y1="384.40" x2="99.13" y2="385.50" stroke="#444" stroke-width="0.45" />
<line x1="102.12" y1="384.40" x2="102.12" y2="385.50" stroke="#444" stroke-width="0.45" />
<line x1="104.44" y1="384.40" x2="104.44" y2="385.50" stroke="#444" stroke-width="0.45" />
<line x1="106.34" y1="384.40" x2="106.34" y2="385.50" stroke="#444" stroke-width="0.45" />
<line x1="107.94" y1="384.40" x2="107.94" y2="385.50" stroke="#444" stroke-width="0.45" />
<line x1="109.33" y1="384.40" x2="109.33" y2="385.50" stroke="#444" stroke-width="0.45" />
<line x1="110.55" y1="384.40" x2="110.55" y2="385.50" stroke="#444" stroke-width="0.45" />
<text x="86.80" y="391.70" font-size="5.0" text-anchor="middle" fill="#222" textLength="5.20" lengthAdjust="spacingAndGlyphs">10</text>
<text x="89.60" y="389.00" font-size="3.6" fill="#222">2</text>
<line x1="111.65" y1="384.40" x2="111.65" y2="386.40" stroke="#222" stroke-width="0.6" />
<line x1="118.86" y1="384.40" x2="118.86" y2="385.50" stroke="#444" stroke-width="0.45" />
<line x1="123.08" y1="384.40" x2="123.08" y2="385.50" stroke="#444" stroke-width="0.45" />
<line x1="126.07" y1="384.40" x2="126.07" y2="385.50" stroke="#444" stroke-width="0.45" />
<line x1="128.39" y1="384.40" x2="128.39" y2="385.50" stroke="#444" stroke-width="0.45" />
<line x1="130.29" y1="384.40" x2="130.29" y2="385.50" stroke="#444" stroke-width="0.45" />
<line x1="131.89" y1="384.40" x2="131.89" y2="385.50" stroke="#444" stroke-width="0.45" />
<line x1="133.28" y1="384.40" x2="133.28" y2="385.50" stroke="#444" stroke-width="0.45" />
<line x1="134.50" y1="384.40" x2="134.50" y2="385.50" stroke="#444" stroke-width="0.45" />
<text x="110.75" y="391.70" font-size="5.0" text-anchor="middle" fill="#222" textLength="5.20" lengthAdjust="spacingAndGlyphs">10</text>
<text x="113.55" y="389.00" font-size="3.6" fill="#222">3</text>
<line x1="135.60" y1="384.40" x2="135.60" y2="386.40" stroke="#222" stroke-width="0.6" />
<text x="134.70" y="391.70" font-size="5.0" text-anchor="middle" fill="#222" textLength="5.20" lengthAdjust="spacingAndGlyphs">10</text>
<text x="137.50" y="389.00" font-size="3.6" fill="#222">4</text>
<text x="86.70" y="397.60" font-size="5.0" text-anchor="middle" fill="#222" textLength="27.40" lengthAdjust="spacingAndGlyphs">FL1-Height</text>
<path d="M164.40,384.40 L164.20,378.99 L164.24,378.62 L164.40,376.82 L164.80,375.19 L165.30,373.30 L165.80,371.44 L166.30,371.06 L166.76,368.68 L167.20,365.57 L167.65,363.81 L168.10,360.31 L168.54,356.36 L169.00,353.11 L169.50,349.67 L170.00,346.62 L170.45,342.79 L170.90,338.22 L171.40,334.28 L171.90,334.49 L172.35,330.55 L172.80,327.13 L173.30,326.82 L173.80,323.30 L174.25,322.56 L174.70,320.39 L175.20,318.69 L175.70,319.95 L176.16,319.83 L176.60,319.97 L177.04,320.12 L177.50,319.97 L178.00,324.88 L178.50,326.81 L178.96,331.12 L179.40,333.83 L179.84,333.53 L180.30,331.53 L180.80,333.44 L181.30,333.17 L181.75,334.11 L182.20,335.44 L182.70,337.28 L183.20,342.55 L183.65,342.64 L184.10,344.17 L184.60,346.14 L185.10,348.20 L185.56,350.87 L186.00,355.45 L186.44,358.25 L186.90,359.84 L187.40,360.75 L187.90,362.76 L188.36,364.19 L188.80,366.75 L189.24,367.65 L189.70,369.93 L190.18,372.78 L190.70,374.58 L191.28,375.83 L191.90,376.46 L192.53,378.25 L193.20,380.05 L193.68,379.99 L194.19,380.97 L194.70,381.63 L195.19,381.09 L195.70,381.87 L196.30,381.75 L196.74,381.52 L197.23,381.80 L197.75,382.17 L198.28,382.05 L198.80,382.36 L199.36,382.73 L199.96,382.40 L200.54,382.40 L201.04,382.33 L201.40,382.91 L202.30,383.54 L203.20,383.74 L204.10,383.55 L205.00,383.71 L205.90,382.91 L206.80,383.38 L207.70,383.23 L208.60,383.07 L209.50,383.66 L210.40,383.13 L211.30,383.77 L212.20,383.16 L213.10,383.35 L214.00,383.57 L214.90,383.58 L215.80,382.84 L216.70,383.53 L217.60,382.91 L218.50,383.14 L219.40,382.89 L220.30,383.41 L221.20,383.00 L222.10,382.99 L223.00,383.33 L223.90,383.22 L224.80,383.34 L225.70,383.32 L226.60,383.50 L227.50,383.70 L228.40,383.77 L229.30,383.39 L230.20,383.43 L231.10,383.39 L232.00,383.15 L232.90,383.58 L233.80,382.92 L234.70,383.74 L235.60,383.28 L236.50,383.55 L237.40,383.49 L238.30,382.88 L239.20,383.22 L240.10,383.18 L241.00,382.92 L241.90,383.54 L242.80,383.22 L243.70,383.46 L244.60,382.84 L245.50,383.74 L246.40,383.21 L247.30,383.63 L248.20,383.56 L249.10,382.89 L250.00,383.55 L250.90,383.51 L251.80,383.60 L252.70,383.58 L253.60,383.06 L254.50,383.39 L255.40,383.77 L256.30,383.04 L257.20,383.18 L258.10,383.26 L259.00,383.36 L259.90,383.56 L260.80,383.18 L261.70,383.44 L261.80,383.65 L261.80,384.40 Z" fill="#686868" stroke="none"/>
<path d="M164.20,378.99 L164.24,378.62 L164.40,376.82 L164.80,375.19 L165.30,373.30 L165.80,371.44 L166.30,371.06 L166.76,368.68 L167.20,365.57 L167.65,363.81 L168.10,360.31 L168.54,356.36 L169.00,353.11 L169.50,349.67 L170.00,346.62 L170.45,342.79 L170.90,338.22 L171.40,334.28 L171.90,334.49 L172.35,330.55 L172.80,327.13 L173.30,326.82 L173.80,323.30 L174.25,322.56 L174.70,320.39 L175.20,318.69 L175.70,319.95 L176.16,319.83 L176.60,319.97 L177.04,320.12 L177.50,319.97 L178.00,324.88 L178.50,326.81 L178.96,331.12 L179.40,333.83 L179.84,333.53 L180.30,331.53 L180.80,333.44 L181.30,333.17 L181.75,334.11 L182.20,335.44 L182.70,337.28 L183.20,342.55 L183.65,342.64 L184.10,344.17 L184.60,346.14 L185.10,348.20 L185.56,350.87 L186.00,355.45 L186.44,358.25 L186.90,359.84 L187.40,360.75 L187.90,362.76 L188.36,364.19 L188.80,366.75 L189.24,367.65 L189.70,369.93 L190.18,372.78 L190.70,374.58 L191.28,375.83 L191.90,376.46 L192.53,378.25 L193.20,380.05 L193.68,379.99 L194.19,380.97 L194.70,381.63 L195.19,381.09 L195.70,381.87 L196.30,381.75 L196.74,381.52 L197.23,381.80 L197.75,382.17 L198.28,382.05 L198.80,382.36 L199.36,382.73 L199.96,382.40 L200.54,382.40 L201.04,382.33 L201.40,382.91 L202.30,383.54 L203.20,383.74 L204.10,383.55 L205.00,383.71 L205.90,382.91 L206.80,383.38 L207.70,383.23 L208.60,383.07 L209.50,383.66 L210.40,383.13 L211.30,383.77 L212.20,383.16 L213.10,383.35 L214.00,383.57 L214.90,383.58 L215.80,382.84 L216.70,383.53 L217.60,382.91 L218.50,383.14 L219.40,382.89 L220.30,383.41 L221.20,383.00 L222.10,382.99 L223.00,383.33 L223.90,383.22 L224.80,383.34 L225.70,383.32 L226.60,383.50 L227.50,383.70 L228.40,383.77 L229.30,383.39 L230.20,383.43 L231.10,383.39 L232.00,383.15 L232.90,383.58 L233.80,382.92 L234.70,383.74 L235.60,383.28 L236.50,383.55 L237.40,383.49 L238.30,382.88 L239.20,383.22 L240.10,383.18 L241.00,382.92 L241.90,383.54 L242.80,383.22 L243.70,383.46 L244.60,382.84 L245.50,383.74 L246.40,383.21 L247.30,383.63 L248.20,383.56 L249.10,382.89 L250.00,383.55 L250.90,383.51 L251.80,383.60 L252.70,383.58 L253.60,383.06 L254.50,383.39 L255.40,383.77 L256.30,383.04 L257.20,383.18 L258.10,383.26 L259.00,383.36 L259.90,383.56 L260.80,383.18 L261.70,383.44 L261.80,383.65" fill="none" stroke="#111" stroke-width="1.0" stroke-linejoin="round"/>
<path d="M164.20,331.95 L164.63,329.40 L165.20,325.83 L165.74,325.80 L166.30,325.53 L166.89,323.99 L167.50,320.67 L168.15,318.94 L168.80,316.96 L169.40,316.29 L170.00,316.73 L170.69,317.28 L171.30,319.36 L171.60,320.78 L171.80,323.44 L172.08,324.87 L172.30,326.15" fill="none" stroke="#8a8a8a" stroke-width="0.8" stroke-dasharray="1.0,0.7"/>
<line x1="163.80" y1="316.40" x2="262.40" y2="316.40" stroke="#777" stroke-width="0.8" />
<line x1="262.40" y1="316.40" x2="262.40" y2="384.40" stroke="#555" stroke-width="0.8" />
<line x1="163.80" y1="316.10" x2="163.80" y2="385.00" stroke="#000" stroke-width="1.3" />
<line x1="163.20" y1="384.40" x2="262.40" y2="384.40" stroke="#000" stroke-width="1.2" />
<line x1="161.30" y1="384.40" x2="163.80" y2="384.40" stroke="#111" stroke-width="0.6" />
<line x1="162.20" y1="381.68" x2="163.80" y2="381.68" stroke="#111" stroke-width="0.6" />
<line x1="162.20" y1="378.96" x2="163.80" y2="378.96" stroke="#111" stroke-width="0.6" />
<line x1="162.20" y1="376.24" x2="163.80" y2="376.24" stroke="#111" stroke-width="0.6" />
<line x1="162.20" y1="373.52" x2="163.80" y2="373.52" stroke="#111" stroke-width="0.6" />
<line x1="161.30" y1="370.80" x2="163.80" y2="370.80" stroke="#111" stroke-width="0.6" />
<line x1="162.20" y1="368.08" x2="163.80" y2="368.08" stroke="#111" stroke-width="0.6" />
<line x1="162.20" y1="365.36" x2="163.80" y2="365.36" stroke="#111" stroke-width="0.6" />
<line x1="162.20" y1="362.64" x2="163.80" y2="362.64" stroke="#111" stroke-width="0.6" />
<line x1="162.20" y1="359.92" x2="163.80" y2="359.92" stroke="#111" stroke-width="0.6" />
<line x1="161.30" y1="357.20" x2="163.80" y2="357.20" stroke="#111" stroke-width="0.6" />
<line x1="162.20" y1="354.48" x2="163.80" y2="354.48" stroke="#111" stroke-width="0.6" />
<line x1="162.20" y1="351.76" x2="163.80" y2="351.76" stroke="#111" stroke-width="0.6" />
<line x1="162.20" y1="349.04" x2="163.80" y2="349.04" stroke="#111" stroke-width="0.6" />
<line x1="162.20" y1="346.32" x2="163.80" y2="346.32" stroke="#111" stroke-width="0.6" />
<line x1="161.30" y1="343.60" x2="163.80" y2="343.60" stroke="#111" stroke-width="0.6" />
<line x1="162.20" y1="340.88" x2="163.80" y2="340.88" stroke="#111" stroke-width="0.6" />
<line x1="162.20" y1="338.16" x2="163.80" y2="338.16" stroke="#111" stroke-width="0.6" />
<line x1="162.20" y1="335.44" x2="163.80" y2="335.44" stroke="#111" stroke-width="0.6" />
<line x1="162.20" y1="332.72" x2="163.80" y2="332.72" stroke="#111" stroke-width="0.6" />
<line x1="161.30" y1="330.00" x2="163.80" y2="330.00" stroke="#111" stroke-width="0.6" />
<line x1="162.20" y1="327.28" x2="163.80" y2="327.28" stroke="#111" stroke-width="0.6" />
<line x1="162.20" y1="324.56" x2="163.80" y2="324.56" stroke="#111" stroke-width="0.6" />
<line x1="162.20" y1="321.84" x2="163.80" y2="321.84" stroke="#111" stroke-width="0.6" />
<line x1="162.20" y1="319.12" x2="163.80" y2="319.12" stroke="#111" stroke-width="0.6" />
<line x1="161.30" y1="316.40" x2="163.80" y2="316.40" stroke="#111" stroke-width="0.6" />
<text x="158.40" y="384.40" font-size="5.0" stroke="#000" stroke-width="0.12" text-anchor="middle" textLength="1.90" lengthAdjust="spacingAndGlyphs" transform="rotate(-90 158.40 384.40)">0</text>
<text x="158.40" y="370.80" font-size="5.0" stroke="#000" stroke-width="0.12" text-anchor="middle" textLength="3.80" lengthAdjust="spacingAndGlyphs" transform="rotate(-90 158.40 370.80)">10</text>
<text x="158.40" y="357.20" font-size="5.0" stroke="#000" stroke-width="0.12" text-anchor="middle" textLength="3.80" lengthAdjust="spacingAndGlyphs" transform="rotate(-90 158.40 357.20)">20</text>
<text x="158.40" y="343.60" font-size="5.0" stroke="#000" stroke-width="0.12" text-anchor="middle" textLength="3.80" lengthAdjust="spacingAndGlyphs" transform="rotate(-90 158.40 343.60)">30</text>
<text x="158.40" y="330.00" font-size="5.0" stroke="#000" stroke-width="0.12" text-anchor="middle" textLength="3.80" lengthAdjust="spacingAndGlyphs" transform="rotate(-90 158.40 330.00)">40</text>
<text x="158.40" y="316.40" font-size="5.0" stroke="#000" stroke-width="0.12" text-anchor="middle" textLength="3.80" lengthAdjust="spacingAndGlyphs" transform="rotate(-90 158.40 316.40)">50</text>
<text x="151.70" y="352.90" font-size="4.5" stroke="#000" stroke-width="0.12" text-anchor="middle" textLength="14.70" lengthAdjust="spacingAndGlyphs" transform="rotate(-90 151.70 352.90)">Counts</text>
<line x1="163.80" y1="384.40" x2="163.80" y2="386.40" stroke="#222" stroke-width="0.6" />
<line x1="171.22" y1="384.40" x2="171.22" y2="385.50" stroke="#444" stroke-width="0.45" />
<line x1="175.56" y1="384.40" x2="175.56" y2="385.50" stroke="#444" stroke-width="0.45" />
<line x1="178.64" y1="384.40" x2="178.64" y2="385.50" stroke="#444" stroke-width="0.45" />
<line x1="181.03" y1="384.40" x2="181.03" y2="385.50" stroke="#444" stroke-width="0.45" />
<line x1="182.98" y1="384.40" x2="182.98" y2="385.50" stroke="#444" stroke-width="0.45" />
<line x1="184.63" y1="384.40" x2="184.63" y2="385.50" stroke="#444" stroke-width="0.45" />
<line x1="186.06" y1="384.40" x2="186.06" y2="385.50" stroke="#444" stroke-width="0.45" />
<line x1="187.32" y1="384.40" x2="187.32" y2="385.50" stroke="#444" stroke-width="0.45" />
<text x="162.90" y="391.70" font-size="5.0" text-anchor="middle" fill="#222" textLength="5.20" lengthAdjust="spacingAndGlyphs">10</text>
<text x="165.70" y="389.00" font-size="3.6" fill="#222">0</text>
<line x1="188.45" y1="384.40" x2="188.45" y2="386.40" stroke="#222" stroke-width="0.6" />
<line x1="195.87" y1="384.40" x2="195.87" y2="385.50" stroke="#444" stroke-width="0.45" />
<line x1="200.21" y1="384.40" x2="200.21" y2="385.50" stroke="#444" stroke-width="0.45" />
<line x1="203.29" y1="384.40" x2="203.29" y2="385.50" stroke="#444" stroke-width="0.45" />
<line x1="205.68" y1="384.40" x2="205.68" y2="385.50" stroke="#444" stroke-width="0.45" />
<line x1="207.63" y1="384.40" x2="207.63" y2="385.50" stroke="#444" stroke-width="0.45" />
<line x1="209.28" y1="384.40" x2="209.28" y2="385.50" stroke="#444" stroke-width="0.45" />
<line x1="210.71" y1="384.40" x2="210.71" y2="385.50" stroke="#444" stroke-width="0.45" />
<line x1="211.97" y1="384.40" x2="211.97" y2="385.50" stroke="#444" stroke-width="0.45" />
<text x="187.55" y="391.70" font-size="5.0" text-anchor="middle" fill="#222" textLength="5.20" lengthAdjust="spacingAndGlyphs">10</text>
<text x="190.35" y="389.00" font-size="3.6" fill="#222">1</text>
<line x1="213.10" y1="384.40" x2="213.10" y2="386.40" stroke="#222" stroke-width="0.6" />
<line x1="220.52" y1="384.40" x2="220.52" y2="385.50" stroke="#444" stroke-width="0.45" />
<line x1="224.86" y1="384.40" x2="224.86" y2="385.50" stroke="#444" stroke-width="0.45" />
<line x1="227.94" y1="384.40" x2="227.94" y2="385.50" stroke="#444" stroke-width="0.45" />
<line x1="230.33" y1="384.40" x2="230.33" y2="385.50" stroke="#444" stroke-width="0.45" />
<line x1="232.28" y1="384.40" x2="232.28" y2="385.50" stroke="#444" stroke-width="0.45" />
<line x1="233.93" y1="384.40" x2="233.93" y2="385.50" stroke="#444" stroke-width="0.45" />
<line x1="235.36" y1="384.40" x2="235.36" y2="385.50" stroke="#444" stroke-width="0.45" />
<line x1="236.62" y1="384.40" x2="236.62" y2="385.50" stroke="#444" stroke-width="0.45" />
<text x="212.20" y="391.70" font-size="5.0" text-anchor="middle" fill="#222" textLength="5.20" lengthAdjust="spacingAndGlyphs">10</text>
<text x="215.00" y="389.00" font-size="3.6" fill="#222">2</text>
<line x1="237.75" y1="384.40" x2="237.75" y2="386.40" stroke="#222" stroke-width="0.6" />
<line x1="245.17" y1="384.40" x2="245.17" y2="385.50" stroke="#444" stroke-width="0.45" />
<line x1="249.51" y1="384.40" x2="249.51" y2="385.50" stroke="#444" stroke-width="0.45" />
<line x1="252.59" y1="384.40" x2="252.59" y2="385.50" stroke="#444" stroke-width="0.45" />
<line x1="254.98" y1="384.40" x2="254.98" y2="385.50" stroke="#444" stroke-width="0.45" />
<line x1="256.93" y1="384.40" x2="256.93" y2="385.50" stroke="#444" stroke-width="0.45" />
<line x1="258.58" y1="384.40" x2="258.58" y2="385.50" stroke="#444" stroke-width="0.45" />
<line x1="260.01" y1="384.40" x2="260.01" y2="385.50" stroke="#444" stroke-width="0.45" />
<line x1="261.27" y1="384.40" x2="261.27" y2="385.50" stroke="#444" stroke-width="0.45" />
<text x="236.85" y="391.70" font-size="5.0" text-anchor="middle" fill="#222" textLength="5.20" lengthAdjust="spacingAndGlyphs">10</text>
<text x="239.65" y="389.00" font-size="3.6" fill="#222">3</text>
<line x1="262.40" y1="384.40" x2="262.40" y2="386.40" stroke="#222" stroke-width="0.6" />
<text x="261.50" y="391.70" font-size="5.0" text-anchor="middle" fill="#222" textLength="5.20" lengthAdjust="spacingAndGlyphs">10</text>
<text x="264.30" y="389.00" font-size="3.6" fill="#222">4</text>
<text x="212.10" y="397.60" font-size="5.0" text-anchor="middle" fill="#222" textLength="27.40" lengthAdjust="spacingAndGlyphs">FL1-Height</text>
<path d="M289.40,384.40 L289.20,381.79 L289.24,380.78 L289.40,380.80 L289.80,379.42 L290.30,377.73 L290.80,376.11 L291.30,374.99 L291.76,374.06 L292.20,371.43 L292.64,368.93 L293.10,366.88 L293.60,366.05 L294.10,364.29 L294.56,361.06 L295.00,356.32 L295.44,354.20 L295.90,349.20 L296.42,345.79 L296.90,342.80 L297.22,340.45 L297.50,339.14 L297.85,333.63 L298.20,330.09 L298.51,328.39 L298.80,324.92 L299.09,324.47 L299.40,323.66 L299.75,319.74 L300.10,319.14 L300.41,318.23 L300.70,317.03 L301.00,320.50 L301.30,322.00 L301.56,322.62 L301.90,323.71 L302.46,322.44 L303.10,322.74 L303.77,320.77 L304.40,319.46 L304.87,320.09 L305.30,321.13 L305.80,323.65 L306.30,325.21 L306.75,321.60 L307.20,318.96 L307.70,319.38 L308.20,320.67 L308.65,320.74 L309.10,321.29 L309.60,320.33 L310.10,322.86 L310.56,325.76 L311.00,326.63 L311.44,327.20 L311.90,330.09 L312.40,332.32 L312.90,334.05 L313.36,337.95 L313.80,340.26 L314.24,344.19 L314.70,346.39 L315.20,348.06 L315.70,350.51 L316.15,353.86 L316.60,357.13 L317.10,357.83 L317.60,359.64 L318.05,360.97 L318.50,363.70 L319.00,365.12 L319.50,367.87 L319.96,370.69 L320.40,369.74 L320.82,371.49 L321.30,373.99 L321.93,375.96 L322.60,376.84 L323.16,377.47 L323.80,379.72 L324.23,380.51 L324.71,380.82 L325.21,380.94 L325.70,380.71 L326.22,381.70 L326.77,382.18 L327.26,382.13 L327.60,382.52 L328.50,383.51 L329.40,382.80 L330.30,383.62 L331.20,383.43 L332.10,382.96 L333.00,383.13 L333.90,382.73 L334.80,382.85 L335.70,383.35 L336.60,383.47 L337.50,382.89 L338.40,383.40 L339.30,383.08 L340.20,383.25 L341.10,383.53 L342.00,382.94 L342.90,382.87 L343.80,383.12 L344.70,383.68 L345.60,383.11 L346.50,383.54 L347.40,382.87 L348.30,383.45 L349.20,383.56 L350.10,383.07 L351.00,382.91 L351.90,382.80 L352.80,382.84 L353.70,382.99 L354.60,383.30 L355.50,383.57 L356.40,382.96 L357.30,383.63 L358.20,382.87 L359.10,383.20 L360.00,383.45 L360.90,383.60 L361.80,383.61 L362.70,383.65 L363.60,382.78 L364.50,383.57 L365.40,382.70 L366.30,383.16 L367.20,383.06 L368.10,383.13 L369.00,382.79 L369.90,383.11 L370.80,383.38 L371.70,383.37 L372.60,382.71 L373.50,383.50 L374.40,383.01 L375.30,383.24 L376.20,383.00 L377.10,383.37 L378.00,383.20 L378.90,383.57 L379.80,382.76 L380.70,383.10 L381.60,383.69 L382.50,382.72 L383.40,382.81 L384.30,383.42 L385.20,383.68 L386.00,382.78 L386.00,384.40 Z" fill="#686868" stroke="none"/>
<path d="M289.20,381.79 L289.24,380.78 L289.40,380.80 L289.80,379.42 L290.30,377.73 L290.80,376.11 L291.30,374.99 L291.76,374.06 L292.20,371.43 L292.64,368.93 L293.10,366.88 L293.60,366.05 L294.10,364.29 L294.56,361.06 L295.00,356.32 L295.44,354.20 L295.90,349.20 L296.42,345.79 L296.90,342.80 L297.22,340.45 L297.50,339.14 L297.85,333.63 L298.20,330.09 L298.51,328.39 L298.80,324.92 L299.09,324.47 L299.40,323.66 L299.75,319.74 L300.10,319.14 L300.41,318.23 L300.70,317.03 L301.00,320.50 L301.30,322.00 L301.56,322.62 L301.90,323.71 L302.46,322.44 L303.10,322.74 L303.77,320.77 L304.40,319.46 L304.87,320.09 L305.30,321.13 L305.80,323.65 L306.30,325.21 L306.75,321.60 L307.20,318.96 L307.70,319.38 L308.20,320.67 L308.65,320.74 L309.10,321.29 L309.60,320.33 L310.10,322.86 L310.56,325.76 L311.00,326.63 L311.44,327.20 L311.90,330.09 L312.40,332.32 L312.90,334.05 L313.36,337.95 L313.80,340.26 L314.24,344.19 L314.70,346.39 L315.20,348.06 L315.70,350.51 L316.15,353.86 L316.60,357.13 L317.10,357.83 L317.60,359.64 L318.05,360.97 L318.50,363.70 L319.00,365.12 L319.50,367.87 L319.96,370.69 L320.40,369.74 L320.82,371.49 L321.30,373.99 L321.93,375.96 L322.60,376.84 L323.16,377.47 L323.80,379.72 L324.23,380.51 L324.71,380.82 L325.21,380.94 L325.70,380.71 L326.22,381.70 L326.77,382.18 L327.26,382.13 L327.60,382.52 L328.50,383.51 L329.40,382.80 L330.30,383.62 L331.20,383.43 L332.10,382.96 L333.00,383.13 L333.90,382.73 L334.80,382.85 L335.70,383.35 L336.60,383.47 L337.50,382.89 L338.40,383.40 L339.30,383.08 L340.20,383.25 L341.10,383.53 L342.00,382.94 L342.90,382.87 L343.80,383.12 L344.70,383.68 L345.60,383.11 L346.50,383.54 L347.40,382.87 L348.30,383.45 L349.20,383.56 L350.10,383.07 L351.00,382.91 L351.90,382.80 L352.80,382.84 L353.70,382.99 L354.60,383.30 L355.50,383.57 L356.40,382.96 L357.30,383.63 L358.20,382.87 L359.10,383.20 L360.00,383.45 L360.90,383.60 L361.80,383.61 L362.70,383.65 L363.60,382.78 L364.50,383.57 L365.40,382.70 L366.30,383.16 L367.20,383.06 L368.10,383.13 L369.00,382.79 L369.90,383.11 L370.80,383.38 L371.70,383.37 L372.60,382.71 L373.50,383.50 L374.40,383.01 L375.30,383.24 L376.20,383.00 L377.10,383.37 L378.00,383.20 L378.90,383.57 L379.80,382.76 L380.70,383.10 L381.60,383.69 L382.50,382.72 L383.40,382.81 L384.30,383.42 L385.20,383.68 L386.00,382.78" fill="none" stroke="#111" stroke-width="1.0" stroke-linejoin="round"/>
<path d="M289.20,332.79 L289.63,328.65 L290.20,325.36 L290.74,325.34 L291.30,323.87 L291.89,323.12 L292.50,320.54 L293.15,318.00 L293.80,316.70 L294.40,316.90 L295.00,317.10 L295.69,318.42 L296.30,317.29 L296.64,320.00 L296.90,321.86 L297.24,324.36 L297.50,324.73" fill="none" stroke="#8a8a8a" stroke-width="0.8" stroke-dasharray="1.0,0.7"/>
<line x1="288.80" y1="315.80" x2="386.60" y2="315.80" stroke="#777" stroke-width="0.8" />
<line x1="386.60" y1="315.80" x2="386.60" y2="384.40" stroke="#555" stroke-width="0.8" />
<line x1="288.80" y1="315.50" x2="288.80" y2="385.00" stroke="#000" stroke-width="1.3" />
<line x1="288.20" y1="384.40" x2="386.60" y2="384.40" stroke="#000" stroke-width="1.2" />
<line x1="286.30" y1="384.40" x2="288.80" y2="384.40" stroke="#111" stroke-width="0.6" />
<line x1="287.20" y1="381.66" x2="288.80" y2="381.66" stroke="#111" stroke-width="0.6" />
<line x1="287.20" y1="378.91" x2="288.80" y2="378.91" stroke="#111" stroke-width="0.6" />
<line x1="287.20" y1="376.17" x2="288.80" y2="376.17" stroke="#111" stroke-width="0.6" />
<line x1="287.20" y1="373.42" x2="288.80" y2="373.42" stroke="#111" stroke-width="0.6" />
<line x1="286.30" y1="370.68" x2="288.80" y2="370.68" stroke="#111" stroke-width="0.6" />
<line x1="287.20" y1="367.94" x2="288.80" y2="367.94" stroke="#111" stroke-width="0.6" />
<line x1="287.20" y1="365.19" x2="288.80" y2="365.19" stroke="#111" stroke-width="0.6" />
<line x1="287.20" y1="362.45" x2="288.80" y2="362.45" stroke="#111" stroke-width="0.6" />
<line x1="287.20" y1="359.70" x2="288.80" y2="359.70" stroke="#111" stroke-width="0.6" />
<line x1="286.30" y1="356.96" x2="288.80" y2="356.96" stroke="#111" stroke-width="0.6" />
<line x1="287.20" y1="354.22" x2="288.80" y2="354.22" stroke="#111" stroke-width="0.6" />
<line x1="287.20" y1="351.47" x2="288.80" y2="351.47" stroke="#111" stroke-width="0.6" />
<line x1="287.20" y1="348.73" x2="288.80" y2="348.73" stroke="#111" stroke-width="0.6" />
<line x1="287.20" y1="345.98" x2="288.80" y2="345.98" stroke="#111" stroke-width="0.6" />
<line x1="286.30" y1="343.24" x2="288.80" y2="343.24" stroke="#111" stroke-width="0.6" />
<line x1="287.20" y1="340.50" x2="288.80" y2="340.50" stroke="#111" stroke-width="0.6" />
<line x1="287.20" y1="337.75" x2="288.80" y2="337.75" stroke="#111" stroke-width="0.6" />
<line x1="287.20" y1="335.01" x2="288.80" y2="335.01" stroke="#111" stroke-width="0.6" />
<line x1="287.20" y1="332.26" x2="288.80" y2="332.26" stroke="#111" stroke-width="0.6" />
<line x1="286.30" y1="329.52" x2="288.80" y2="329.52" stroke="#111" stroke-width="0.6" />
<line x1="287.20" y1="326.78" x2="288.80" y2="326.78" stroke="#111" stroke-width="0.6" />
<line x1="287.20" y1="324.03" x2="288.80" y2="324.03" stroke="#111" stroke-width="0.6" />
<line x1="287.20" y1="321.29" x2="288.80" y2="321.29" stroke="#111" stroke-width="0.6" />
<line x1="287.20" y1="318.54" x2="288.80" y2="318.54" stroke="#111" stroke-width="0.6" />
<line x1="286.30" y1="315.80" x2="288.80" y2="315.80" stroke="#111" stroke-width="0.6" />
<text x="283.40" y="384.40" font-size="5.0" stroke="#000" stroke-width="0.12" text-anchor="middle" textLength="1.90" lengthAdjust="spacingAndGlyphs" transform="rotate(-90 283.40 384.40)">0</text>
<text x="283.40" y="370.68" font-size="5.0" stroke="#000" stroke-width="0.12" text-anchor="middle" textLength="3.80" lengthAdjust="spacingAndGlyphs" transform="rotate(-90 283.40 370.68)">10</text>
<text x="283.40" y="356.96" font-size="5.0" stroke="#000" stroke-width="0.12" text-anchor="middle" textLength="3.80" lengthAdjust="spacingAndGlyphs" transform="rotate(-90 283.40 356.96)">20</text>
<text x="283.40" y="343.24" font-size="5.0" stroke="#000" stroke-width="0.12" text-anchor="middle" textLength="3.80" lengthAdjust="spacingAndGlyphs" transform="rotate(-90 283.40 343.24)">30</text>
<text x="283.40" y="329.52" font-size="5.0" stroke="#000" stroke-width="0.12" text-anchor="middle" textLength="3.80" lengthAdjust="spacingAndGlyphs" transform="rotate(-90 283.40 329.52)">40</text>
<text x="283.40" y="315.80" font-size="5.0" stroke="#000" stroke-width="0.12" text-anchor="middle" textLength="3.80" lengthAdjust="spacingAndGlyphs" transform="rotate(-90 283.40 315.80)">50</text>
<text x="276.70" y="352.60" font-size="4.5" stroke="#000" stroke-width="0.12" text-anchor="middle" textLength="14.70" lengthAdjust="spacingAndGlyphs" transform="rotate(-90 276.70 352.60)">Counts</text>
<line x1="288.80" y1="384.40" x2="288.80" y2="386.40" stroke="#222" stroke-width="0.6" />
<line x1="296.16" y1="384.40" x2="296.16" y2="385.50" stroke="#444" stroke-width="0.45" />
<line x1="300.47" y1="384.40" x2="300.47" y2="385.50" stroke="#444" stroke-width="0.45" />
<line x1="303.52" y1="384.40" x2="303.52" y2="385.50" stroke="#444" stroke-width="0.45" />
<line x1="305.89" y1="384.40" x2="305.89" y2="385.50" stroke="#444" stroke-width="0.45" />
<line x1="307.83" y1="384.40" x2="307.83" y2="385.50" stroke="#444" stroke-width="0.45" />
<line x1="309.46" y1="384.40" x2="309.46" y2="385.50" stroke="#444" stroke-width="0.45" />
<line x1="310.88" y1="384.40" x2="310.88" y2="385.50" stroke="#444" stroke-width="0.45" />
<line x1="312.13" y1="384.40" x2="312.13" y2="385.50" stroke="#444" stroke-width="0.45" />
<text x="287.90" y="391.70" font-size="5.0" text-anchor="middle" fill="#222" textLength="5.20" lengthAdjust="spacingAndGlyphs">10</text>
<text x="290.70" y="389.00" font-size="3.6" fill="#222">0</text>
<line x1="313.25" y1="384.40" x2="313.25" y2="386.40" stroke="#222" stroke-width="0.6" />
<line x1="320.61" y1="384.40" x2="320.61" y2="385.50" stroke="#444" stroke-width="0.45" />
<line x1="324.92" y1="384.40" x2="324.92" y2="385.50" stroke="#444" stroke-width="0.45" />
<line x1="327.97" y1="384.40" x2="327.97" y2="385.50" stroke="#444" stroke-width="0.45" />
<line x1="330.34" y1="384.40" x2="330.34" y2="385.50" stroke="#444" stroke-width="0.45" />
<line x1="332.28" y1="384.40" x2="332.28" y2="385.50" stroke="#444" stroke-width="0.45" />
<line x1="333.91" y1="384.40" x2="333.91" y2="385.50" stroke="#444" stroke-width="0.45" />
<line x1="335.33" y1="384.40" x2="335.33" y2="385.50" stroke="#444" stroke-width="0.45" />
<line x1="336.58" y1="384.40" x2="336.58" y2="385.50" stroke="#444" stroke-width="0.45" />
<text x="312.35" y="391.70" font-size="5.0" text-anchor="middle" fill="#222" textLength="5.20" lengthAdjust="spacingAndGlyphs">10</text>
<text x="315.15" y="389.00" font-size="3.6" fill="#222">1</text>
<line x1="337.70" y1="384.40" x2="337.70" y2="386.40" stroke="#222" stroke-width="0.6" />
<line x1="345.06" y1="384.40" x2="345.06" y2="385.50" stroke="#444" stroke-width="0.45" />
<line x1="349.37" y1="384.40" x2="349.37" y2="385.50" stroke="#444" stroke-width="0.45" />
<line x1="352.42" y1="384.40" x2="352.42" y2="385.50" stroke="#444" stroke-width="0.45" />
<line x1="354.79" y1="384.40" x2="354.79" y2="385.50" stroke="#444" stroke-width="0.45" />
<line x1="356.73" y1="384.40" x2="356.73" y2="385.50" stroke="#444" stroke-width="0.45" />
<line x1="358.36" y1="384.40" x2="358.36" y2="385.50" stroke="#444" stroke-width="0.45" />
<line x1="359.78" y1="384.40" x2="359.78" y2="385.50" stroke="#444" stroke-width="0.45" />
<line x1="361.03" y1="384.40" x2="361.03" y2="385.50" stroke="#444" stroke-width="0.45" />
<text x="336.80" y="391.70" font-size="5.0" text-anchor="middle" fill="#222" textLength="5.20" lengthAdjust="spacingAndGlyphs">10</text>
<text x="339.60" y="389.00" font-size="3.6" fill="#222">2</text>
<line x1="362.15" y1="384.40" x2="362.15" y2="386.40" stroke="#222" stroke-width="0.6" />
<line x1="369.51" y1="384.40" x2="369.51" y2="385.50" stroke="#444" stroke-width="0.45" />
<line x1="373.82" y1="384.40" x2="373.82" y2="385.50" stroke="#444" stroke-width="0.45" />
<line x1="376.87" y1="384.40" x2="376.87" y2="385.50" stroke="#444" stroke-width="0.45" />
<line x1="379.24" y1="384.40" x2="379.24" y2="385.50" stroke="#444" stroke-width="0.45" />
<line x1="381.18" y1="384.40" x2="381.18" y2="385.50" stroke="#444" stroke-width="0.45" />
<line x1="382.81" y1="384.40" x2="382.81" y2="385.50" stroke="#444" stroke-width="0.45" />
<line x1="384.23" y1="384.40" x2="384.23" y2="385.50" stroke="#444" stroke-width="0.45" />
<line x1="385.48" y1="384.40" x2="385.48" y2="385.50" stroke="#444" stroke-width="0.45" />
<text x="361.25" y="391.70" font-size="5.0" text-anchor="middle" fill="#222" textLength="5.20" lengthAdjust="spacingAndGlyphs">10</text>
<text x="364.05" y="389.00" font-size="3.6" fill="#222">3</text>
<line x1="386.60" y1="384.40" x2="386.60" y2="386.40" stroke="#222" stroke-width="0.6" />
<text x="385.70" y="391.70" font-size="5.0" text-anchor="middle" fill="#222" textLength="5.20" lengthAdjust="spacingAndGlyphs">10</text>
<text x="388.50" y="389.00" font-size="3.6" fill="#222">4</text>
<text x="336.70" y="397.60" font-size="5.0" text-anchor="middle" fill="#222" textLength="27.40" lengthAdjust="spacingAndGlyphs">FL1-Height</text>
<path d="M411.30,384.60 L411.00,379.79 L411.19,379.06 L411.50,378.41 L411.95,378.02 L412.50,377.93 L413.14,375.88 L413.80,373.80 L414.40,372.40 L415.00,369.19 L415.64,364.91 L416.30,360.88 L416.98,356.44 L417.60,352.78 L418.07,351.61 L418.50,347.30 L419.00,345.76 L419.50,342.39 L419.95,340.81 L420.40,336.49 L420.90,334.30 L421.40,332.05 L421.85,329.63 L422.30,329.19 L422.78,325.16 L423.30,321.97 L423.93,320.37 L424.60,320.62 L425.26,318.82 L425.90,315.54 L426.50,317.07 L427.10,318.40 L427.75,318.98 L428.40,320.21 L429.00,317.39 L429.60,319.66 L430.24,318.80 L430.90,321.35 L431.57,321.63 L432.20,322.56 L432.67,322.46 L433.10,324.99 L433.58,329.35 L434.10,332.94 L434.68,334.73 L435.30,336.31 L435.96,335.34 L436.60,339.35 L437.12,343.47 L437.60,347.59 L438.11,351.66 L438.60,355.75 L439.05,357.45 L439.50,359.65 L439.98,364.04 L440.50,367.89 L441.08,369.19 L441.70,371.87 L442.31,374.52 L443.00,376.54 L443.43,376.93 L443.91,377.82 L444.41,379.14 L444.90,379.34 L445.36,380.55 L445.81,381.48 L446.28,381.31 L446.80,382.02 L447.26,382.14 L447.75,382.22 L448.26,382.60 L448.78,383.17 L449.30,382.69 L449.86,382.79 L450.46,382.43 L451.04,382.47 L451.54,382.70 L451.90,383.18 L452.80,383.10 L453.70,382.99 L454.60,383.56 L455.50,383.49 L456.40,383.53 L457.30,383.25 L458.20,383.35 L459.10,383.79 L460.00,383.72 L460.90,383.16 L461.80,383.17 L462.70,382.97 L463.60,383.63 L464.50,382.94 L465.40,383.58 L466.30,383.85 L467.20,383.75 L468.10,383.27 L469.00,383.71 L469.90,383.03 L470.80,383.67 L471.70,383.08 L472.60,383.58 L473.50,382.92 L474.40,383.40 L475.30,383.83 L476.20,383.11 L477.10,383.00 L478.00,383.32 L478.90,382.91 L479.80,382.98 L480.70,383.55 L481.60,383.88 L482.50,383.87 L483.40,383.71 L484.30,383.34 L485.20,383.68 L486.10,383.64 L487.00,383.67 L487.90,383.38 L488.80,383.65 L489.70,383.24 L490.60,383.18 L491.50,383.08 L492.40,383.27 L493.30,383.34 L494.20,383.22 L495.10,383.77 L496.00,383.43 L496.90,383.32 L497.80,383.86 L498.70,383.79 L499.60,382.96 L500.50,383.24 L501.40,383.59 L502.30,383.33 L503.20,383.86 L504.10,383.63 L505.00,383.83 L505.90,383.58 L506.80,383.10 L507.70,382.96 L508.60,383.30 L509.50,383.06 L510.40,383.46 L510.70,383.67 L510.70,384.60 Z" fill="#686868" stroke="none"/>
<path d="M411.00,379.79 L411.19,379.06 L411.50,378.41 L411.95,378.02 L412.50,377.93 L413.14,375.88 L413.80,373.80 L414.40,372.40 L415.00,369.19 L415.64,364.91 L416.30,360.88 L416.98,356.44 L417.60,352.78 L418.07,351.61 L418.50,347.30 L419.00,345.76 L419.50,342.39 L419.95,340.81 L420.40,336.49 L420.90,334.30 L421.40,332.05 L421.85,329.63 L422.30,329.19 L422.78,325.16 L423.30,321.97 L423.93,320.37 L424.60,320.62 L425.26,318.82 L425.90,315.54 L426.50,317.07 L427.10,318.40 L427.75,318.98 L428.40,320.21 L429.00,317.39 L429.60,319.66 L430.24,318.80 L430.90,321.35 L431.57,321.63 L432.20,322.56 L432.67,322.46 L433.10,324.99 L433.58,329.35 L434.10,332.94 L434.68,334.73 L435.30,336.31 L435.96,335.34 L436.60,339.35 L437.12,343.47 L437.60,347.59 L438.11,351.66 L438.60,355.75 L439.05,357.45 L439.50,359.65 L439.98,364.04 L440.50,367.89 L441.08,369.19 L441.70,371.87 L442.31,374.52 L443.00,376.54 L443.43,376.93 L443.91,377.82 L444.41,379.14 L444.90,379.34 L445.36,380.55 L445.81,381.48 L446.28,381.31 L446.80,382.02 L447.26,382.14 L447.75,382.22 L448.26,382.60 L448.78,383.17 L449.30,382.69 L449.86,382.79 L450.46,382.43 L451.04,382.47 L451.54,382.70 L451.90,383.18 L452.80,383.10 L453.70,382.99 L454.60,383.56 L455.50,383.49 L456.40,383.53 L457.30,383.25 L458.20,383.35 L459.10,383.79 L460.00,383.72 L460.90,383.16 L461.80,383.17 L462.70,382.97 L463.60,383.63 L464.50,382.94 L465.40,383.58 L466.30,383.85 L467.20,383.75 L468.10,383.27 L469.00,383.71 L469.90,383.03 L470.80,383.67 L471.70,383.08 L472.60,383.58 L473.50,382.92 L474.40,383.40 L475.30,383.83 L476.20,383.11 L477.10,383.00 L478.00,383.32 L478.90,382.91 L479.80,382.98 L480.70,383.55 L481.60,383.88 L482.50,383.87 L483.40,383.71 L484.30,383.34 L485.20,383.68 L486.10,383.64 L487.00,383.67 L487.90,383.38 L488.80,383.65 L489.70,383.24 L490.60,383.18 L491.50,383.08 L492.40,383.27 L493.30,383.34 L494.20,383.22 L495.10,383.77 L496.00,383.43 L496.90,383.32 L497.80,383.86 L498.70,383.79 L499.60,382.96 L500.50,383.24 L501.40,383.59 L502.30,383.33 L503.20,383.86 L504.10,383.63 L505.00,383.83 L505.90,383.58 L506.80,383.10 L507.70,382.96 L508.60,383.30 L509.50,383.06 L510.40,383.46 L510.70,383.67" fill="none" stroke="#111" stroke-width="1.0" stroke-linejoin="round"/>
<path d="M411.00,329.35 L411.33,326.75 L411.80,324.34 L412.36,323.53 L413.00,320.87 L413.47,319.14 L413.97,318.47 L414.50,318.29 L414.93,316.44 L415.39,315.48 L415.86,314.64 L416.30,314.71 L416.85,316.55 L417.37,316.82 L417.90,317.94 L418.46,319.00 L419.02,318.54 L419.50,319.88 L420.01,322.69 L420.40,325.09 L420.76,326.64 L421.00,329.30" fill="none" stroke="#8a8a8a" stroke-width="0.8" stroke-dasharray="1.0,0.7"/>
<line x1="410.70" y1="314.50" x2="511.30" y2="314.50" stroke="#777" stroke-width="0.8" />
<line x1="511.30" y1="314.50" x2="511.30" y2="384.60" stroke="#555" stroke-width="0.8" />
<line x1="410.70" y1="314.20" x2="410.70" y2="385.20" stroke="#000" stroke-width="1.3" />
<line x1="410.10" y1="384.60" x2="511.30" y2="384.60" stroke="#000" stroke-width="1.2" />
<line x1="408.20" y1="384.60" x2="410.70" y2="384.60" stroke="#111" stroke-width="0.6" />
<line x1="409.10" y1="381.80" x2="410.70" y2="381.80" stroke="#111" stroke-width="0.6" />
<line x1="409.10" y1="378.99" x2="410.70" y2="378.99" stroke="#111" stroke-width="0.6" />
<line x1="409.10" y1="376.19" x2="410.70" y2="376.19" stroke="#111" stroke-width="0.6" />
<line x1="409.10" y1="373.38" x2="410.70" y2="373.38" stroke="#111" stroke-width="0.6" />
<line x1="408.20" y1="370.58" x2="410.70" y2="370.58" stroke="#111" stroke-width="0.6" />
<line x1="409.10" y1="367.78" x2="410.70" y2="367.78" stroke="#111" stroke-width="0.6" />
<line x1="409.10" y1="364.97" x2="410.70" y2="364.97" stroke="#111" stroke-width="0.6" />
<line x1="409.10" y1="362.17" x2="410.70" y2="362.17" stroke="#111" stroke-width="0.6" />
<line x1="409.10" y1="359.36" x2="410.70" y2="359.36" stroke="#111" stroke-width="0.6" />
<line x1="408.20" y1="356.56" x2="410.70" y2="356.56" stroke="#111" stroke-width="0.6" />
<line x1="409.10" y1="353.76" x2="410.70" y2="353.76" stroke="#111" stroke-width="0.6" />
<line x1="409.10" y1="350.95" x2="410.70" y2="350.95" stroke="#111" stroke-width="0.6" />
<line x1="409.10" y1="348.15" x2="410.70" y2="348.15" stroke="#111" stroke-width="0.6" />
<line x1="409.10" y1="345.34" x2="410.70" y2="345.34" stroke="#111" stroke-width="0.6" />
<line x1="408.20" y1="342.54" x2="410.70" y2="342.54" stroke="#111" stroke-width="0.6" />
<line x1="409.10" y1="339.74" x2="410.70" y2="339.74" stroke="#111" stroke-width="0.6" />
<line x1="409.10" y1="336.93" x2="410.70" y2="336.93" stroke="#111" stroke-width="0.6" />
<line x1="409.10" y1="334.13" x2="410.70" y2="334.13" stroke="#111" stroke-width="0.6" />
<line x1="409.10" y1="331.32" x2="410.70" y2="331.32" stroke="#111" stroke-width="0.6" />
<line x1="408.20" y1="328.52" x2="410.70" y2="328.52" stroke="#111" stroke-width="0.6" />
<line x1="409.10" y1="325.72" x2="410.70" y2="325.72" stroke="#111" stroke-width="0.6" />
<line x1="409.10" y1="322.91" x2="410.70" y2="322.91" stroke="#111" stroke-width="0.6" />
<line x1="409.10" y1="320.11" x2="410.70" y2="320.11" stroke="#111" stroke-width="0.6" />
<line x1="409.10" y1="317.30" x2="410.70" y2="317.30" stroke="#111" stroke-width="0.6" />
<line x1="408.20" y1="314.50" x2="410.70" y2="314.50" stroke="#111" stroke-width="0.6" />
<text x="405.30" y="384.60" font-size="5.0" stroke="#000" stroke-width="0.12" text-anchor="middle" textLength="1.90" lengthAdjust="spacingAndGlyphs" transform="rotate(-90 405.30 384.60)">0</text>
<text x="405.30" y="370.58" font-size="5.0" stroke="#000" stroke-width="0.12" text-anchor="middle" textLength="3.80" lengthAdjust="spacingAndGlyphs" transform="rotate(-90 405.30 370.58)">10</text>
<text x="405.30" y="356.56" font-size="5.0" stroke="#000" stroke-width="0.12" text-anchor="middle" textLength="3.80" lengthAdjust="spacingAndGlyphs" transform="rotate(-90 405.30 356.56)">20</text>
<text x="405.30" y="342.54" font-size="5.0" stroke="#000" stroke-width="0.12" text-anchor="middle" textLength="3.80" lengthAdjust="spacingAndGlyphs" transform="rotate(-90 405.30 342.54)">30</text>
<text x="405.30" y="328.52" font-size="5.0" stroke="#000" stroke-width="0.12" text-anchor="middle" textLength="3.80" lengthAdjust="spacingAndGlyphs" transform="rotate(-90 405.30 328.52)">40</text>
<text x="405.30" y="314.50" font-size="5.0" stroke="#000" stroke-width="0.12" text-anchor="middle" textLength="3.80" lengthAdjust="spacingAndGlyphs" transform="rotate(-90 405.30 314.50)">50</text>
<text x="398.60" y="352.05" font-size="4.5" stroke="#000" stroke-width="0.12" text-anchor="middle" textLength="14.70" lengthAdjust="spacingAndGlyphs" transform="rotate(-90 398.60 352.05)">Counts</text>
<line x1="410.70" y1="384.60" x2="410.70" y2="386.60" stroke="#222" stroke-width="0.6" />
<line x1="418.27" y1="384.60" x2="418.27" y2="385.70" stroke="#444" stroke-width="0.45" />
<line x1="422.70" y1="384.60" x2="422.70" y2="385.70" stroke="#444" stroke-width="0.45" />
<line x1="425.84" y1="384.60" x2="425.84" y2="385.70" stroke="#444" stroke-width="0.45" />
<line x1="428.28" y1="384.60" x2="428.28" y2="385.70" stroke="#444" stroke-width="0.45" />
<line x1="430.27" y1="384.60" x2="430.27" y2="385.70" stroke="#444" stroke-width="0.45" />
<line x1="431.95" y1="384.60" x2="431.95" y2="385.70" stroke="#444" stroke-width="0.45" />
<line x1="433.41" y1="384.60" x2="433.41" y2="385.70" stroke="#444" stroke-width="0.45" />
<line x1="434.70" y1="384.60" x2="434.70" y2="385.70" stroke="#444" stroke-width="0.45" />
<text x="409.80" y="391.90" font-size="5.0" text-anchor="middle" fill="#222" textLength="5.20" lengthAdjust="spacingAndGlyphs">10</text>
<text x="412.60" y="389.20" font-size="3.6" fill="#222">0</text>
<line x1="435.85" y1="384.60" x2="435.85" y2="386.60" stroke="#222" stroke-width="0.6" />
<line x1="443.42" y1="384.60" x2="443.42" y2="385.70" stroke="#444" stroke-width="0.45" />
<line x1="447.85" y1="384.60" x2="447.85" y2="385.70" stroke="#444" stroke-width="0.45" />
<line x1="450.99" y1="384.60" x2="450.99" y2="385.70" stroke="#444" stroke-width="0.45" />
<line x1="453.43" y1="384.60" x2="453.43" y2="385.70" stroke="#444" stroke-width="0.45" />
<line x1="455.42" y1="384.60" x2="455.42" y2="385.70" stroke="#444" stroke-width="0.45" />
<line x1="457.10" y1="384.60" x2="457.10" y2="385.70" stroke="#444" stroke-width="0.45" />
<line x1="458.56" y1="384.60" x2="458.56" y2="385.70" stroke="#444" stroke-width="0.45" />
<line x1="459.85" y1="384.60" x2="459.85" y2="385.70" stroke="#444" stroke-width="0.45" />
<text x="434.95" y="391.90" font-size="5.0" text-anchor="middle" fill="#222" textLength="5.20" lengthAdjust="spacingAndGlyphs">10</text>
<text x="437.75" y="389.20" font-size="3.6" fill="#222">1</text>
<line x1="461.00" y1="384.60" x2="461.00" y2="386.60" stroke="#222" stroke-width="0.6" />
<line x1="468.57" y1="384.60" x2="468.57" y2="385.70" stroke="#444" stroke-width="0.45" />
<line x1="473.00" y1="384.60" x2="473.00" y2="385.70" stroke="#444" stroke-width="0.45" />
<line x1="476.14" y1="384.60" x2="476.14" y2="385.70" stroke="#444" stroke-width="0.45" />
<line x1="478.58" y1="384.60" x2="478.58" y2="385.70" stroke="#444" stroke-width="0.45" />
<line x1="480.57" y1="384.60" x2="480.57" y2="385.70" stroke="#444" stroke-width="0.45" />
<line x1="482.25" y1="384.60" x2="482.25" y2="385.70" stroke="#444" stroke-width="0.45" />
<line x1="483.71" y1="384.60" x2="483.71" y2="385.70" stroke="#444" stroke-width="0.45" />
<line x1="485.00" y1="384.60" x2="485.00" y2="385.70" stroke="#444" stroke-width="0.45" />
<text x="460.10" y="391.90" font-size="5.0" text-anchor="middle" fill="#222" textLength="5.20" lengthAdjust="spacingAndGlyphs">10</text>
<text x="462.90" y="389.20" font-size="3.6" fill="#222">2</text>
<line x1="486.15" y1="384.60" x2="486.15" y2="386.60" stroke="#222" stroke-width="0.6" />
<line x1="493.72" y1="384.60" x2="493.72" y2="385.70" stroke="#444" stroke-width="0.45" />
<line x1="498.15" y1="384.60" x2="498.15" y2="385.70" stroke="#444" stroke-width="0.45" />
<line x1="501.29" y1="384.60" x2="501.29" y2="385.70" stroke="#444" stroke-width="0.45" />
<line x1="503.73" y1="384.60" x2="503.73" y2="385.70" stroke="#444" stroke-width="0.45" />
<line x1="505.72" y1="384.60" x2="505.72" y2="385.70" stroke="#444" stroke-width="0.45" />
<line x1="507.40" y1="384.60" x2="507.40" y2="385.70" stroke="#444" stroke-width="0.45" />
<line x1="508.86" y1="384.60" x2="508.86" y2="385.70" stroke="#444" stroke-width="0.45" />
<line x1="510.15" y1="384.60" x2="510.15" y2="385.70" stroke="#444" stroke-width="0.45" />
<text x="485.25" y="391.90" font-size="5.0" text-anchor="middle" fill="#222" textLength="5.20" lengthAdjust="spacingAndGlyphs">10</text>
<text x="488.05" y="389.20" font-size="3.6" fill="#222">3</text>
<line x1="511.30" y1="384.60" x2="511.30" y2="386.60" stroke="#222" stroke-width="0.6" />
<text x="510.40" y="391.90" font-size="5.0" text-anchor="middle" fill="#222" textLength="5.20" lengthAdjust="spacingAndGlyphs">10</text>
<text x="513.20" y="389.20" font-size="3.6" fill="#222">4</text>
<text x="460.00" y="397.80" font-size="5.0" text-anchor="middle" fill="#222" textLength="27.40" lengthAdjust="spacingAndGlyphs">FL1-Height</text>
<text x="107.00" y="199.50" font-size="10.6" stroke="#000" stroke-width="0.08" textLength="16.00" lengthAdjust="spacingAndGlyphs">WT</text>
<text x="225.20" y="201.20" font-size="10.3" stroke="#000" stroke-width="0.15" textLength="11.30" lengthAdjust="spacingAndGlyphs">TF</text>
<text x="237.80" y="195.10" font-size="7.8" stroke="#000" stroke-width="0.15" textLength="13.80" lengthAdjust="spacingAndGlyphs">∆CT</text>
<text x="342.60" y="201.40" font-size="10.0" stroke="#000" stroke-width="0.1" textLength="25.20" lengthAdjust="spacingAndGlyphs">PAR2</text>
<text x="368.50" y="196.80" font-size="9.2" stroke="#000" stroke-width="0.2" textLength="9.00" lengthAdjust="spacingAndGlyphs">-/-</text>
<text x="473.50" y="201.20" font-size="10.3" stroke="#000" stroke-width="0.15" textLength="10.50" lengthAdjust="spacingAndGlyphs">TF</text>
<text x="484.90" y="194.60" font-size="7.6" stroke="#000" stroke-width="0.15" textLength="14.30" lengthAdjust="spacingAndGlyphs">∆CT</text>
<text x="471.30" y="215.60" font-size="10.2" stroke="#000" stroke-width="0.15" textLength="24.40" lengthAdjust="spacingAndGlyphs">PAR2</text>
<text x="496.40" y="211.00" font-size="9.2" stroke="#000" stroke-width="0.2" textLength="9.30" lengthAdjust="spacingAndGlyphs">-/-</text>
<text x="107.90" y="330.10" font-size="10.6" stroke="#000" stroke-width="0.08" textLength="15.80" lengthAdjust="spacingAndGlyphs">WT</text>
<text x="227.80" y="331.80" font-size="10.3" stroke="#000" stroke-width="0.15" textLength="11.70" lengthAdjust="spacingAndGlyphs">TF</text>
<text x="240.10" y="325.80" font-size="7.6" stroke="#000" stroke-width="0.15" textLength="14.50" lengthAdjust="spacingAndGlyphs">∆CT</text>
<text x="345.00" y="331.90" font-size="10.0" stroke="#000" stroke-width="0.1" textLength="25.70" lengthAdjust="spacingAndGlyphs">PAR2</text>
<text x="370.90" y="327.60" font-size="9.2" stroke="#000" stroke-width="0.2" textLength="9.00" lengthAdjust="spacingAndGlyphs">-/-</text>
<text x="476.00" y="331.40" font-size="10.0" stroke="#000" stroke-width="0.15" textLength="10.20" lengthAdjust="spacingAndGlyphs">TF</text>
<text x="488.40" y="325.40" font-size="7.6" stroke="#000" stroke-width="0.15" textLength="14.70" lengthAdjust="spacingAndGlyphs">∆CT</text>
<text x="473.50" y="346.10" font-size="10.0" stroke="#000" stroke-width="0.15" textLength="24.80" lengthAdjust="spacingAndGlyphs">PAR2</text>
<text x="499.00" y="343.60" font-size="9.2" stroke="#000" stroke-width="0.2" textLength="8.90" lengthAdjust="spacingAndGlyphs">-/-</text>
<line x1="46.80" y1="274.10" x2="465.00" y2="274.10" stroke="#111" stroke-width="1.5" />
<path d="M462.00,270.90 L509.00,273.35 L509.00,274.85 L462.00,277.30 L465.50,274.10 Z" fill="#000"/>
<text x="267.00" y="288.40" font-size="12.2" font-weight="bold" textLength="29.00" lengthAdjust="spacingAndGlyphs">TLR4</text>
<line x1="39.80" y1="409.10" x2="458.40" y2="409.10" stroke="#111" stroke-width="1.5" />
<path d="M455.40,405.90 L502.00,408.35 L502.00,409.85 L455.40,412.30 L458.90,409.10 Z" fill="#000"/>
<text x="260.10" y="423.40" font-size="12.2" font-weight="bold" textLength="30.60" lengthAdjust="spacingAndGlyphs">CD14</text>
<rect x="40.80" y="465.60" width="152.10" height="94.00" fill="none" stroke="#000" stroke-width="1.2"/>
<line x1="38.40" y1="559.60" x2="40.80" y2="559.60" stroke="#000" stroke-width="0.8" />
<text x="35.00" y="562.00" font-size="7.0" text-anchor="end" textLength="3.60" lengthAdjust="spacingAndGlyphs">0</text>
<line x1="38.40" y1="540.80" x2="40.80" y2="540.80" stroke="#000" stroke-width="0.8" />
<text x="35.00" y="543.20" font-size="7.0" text-anchor="end" textLength="10.80" lengthAdjust="spacingAndGlyphs">100</text>
<line x1="38.40" y1="522.00" x2="40.80" y2="522.00" stroke="#000" stroke-width="0.8" />
<text x="35.00" y="524.40" font-size="7.0" text-anchor="end" textLength="10.80" lengthAdjust="spacingAndGlyphs">200</text>
<line x1="38.40" y1="503.20" x2="40.80" y2="503.20" stroke="#000" stroke-width="0.8" />
<text x="35.00" y="505.60" font-size="7.0" text-anchor="end" textLength="10.80" lengthAdjust="spacingAndGlyphs">300</text>
<line x1="38.40" y1="484.40" x2="40.80" y2="484.40" stroke="#000" stroke-width="0.8" />
<text x="35.00" y="486.80" font-size="7.0" text-anchor="end" textLength="10.80" lengthAdjust="spacingAndGlyphs">400</text>
<line x1="38.40" y1="465.60" x2="40.80" y2="465.60" stroke="#000" stroke-width="0.8" />
<text x="35.00" y="468.00" font-size="7.0" text-anchor="end" textLength="10.80" lengthAdjust="spacingAndGlyphs">500</text>
<text x="17.90" y="509.70" font-size="6.9" text-anchor="middle" textLength="91.80" lengthAdjust="spacingAndGlyphs" transform="rotate(-90 17.90 509.70)">TF Clotting Activity (mU/ml)</text>
<text x="97.30" y="460.60" font-size="10.8" stroke="#000" stroke-width="0.15" textLength="35.60" lengthAdjust="spacingAndGlyphs">6 hours</text>
<line x1="51.55" y1="555.50" x2="51.55" y2="553.70" stroke="#000" stroke-width="1.1" />
<line x1="49.55" y1="554.20" x2="53.55" y2="554.20" stroke="#000" stroke-width="1.2" />
<rect x="46.20" y="555.50" width="10.70" height="4.10" fill="#000"/>
<line x1="68.15" y1="484.80" x2="68.15" y2="482.90" stroke="#000" stroke-width="1.1" />
<line x1="66.15" y1="483.40" x2="70.15" y2="483.40" stroke="#000" stroke-width="1.2" />
<rect x="63.10" y="484.80" width="10.10" height="74.80" fill="#000"/>
<line x1="88.15" y1="553.10" x2="88.15" y2="547.80" stroke="#000" stroke-width="1.1" />
<line x1="86.15" y1="548.30" x2="90.15" y2="548.30" stroke="#000" stroke-width="1.2" />
<rect x="82.50" y="553.10" width="11.30" height="6.50" fill="#000"/>
<line x1="105.10" y1="484.50" x2="105.10" y2="479.80" stroke="#000" stroke-width="1.1" />
<line x1="103.10" y1="480.30" x2="107.10" y2="480.30" stroke="#000" stroke-width="1.2" />
<rect x="99.40" y="484.50" width="11.40" height="75.10" fill="#000"/>
<line x1="125.70" y1="554.00" x2="125.70" y2="551.50" stroke="#000" stroke-width="1.1" />
<line x1="123.70" y1="552.00" x2="127.70" y2="552.00" stroke="#000" stroke-width="1.2" />
<rect x="120.00" y="554.00" width="11.40" height="5.60" fill="#000"/>
<line x1="142.60" y1="483.80" x2="142.60" y2="476.20" stroke="#000" stroke-width="1.1" />
<line x1="140.60" y1="476.70" x2="144.60" y2="476.70" stroke="#000" stroke-width="1.2" />
<rect x="136.90" y="483.80" width="11.40" height="75.80" fill="#000"/>
<line x1="163.20" y1="552.20" x2="163.20" y2="545.40" stroke="#000" stroke-width="1.1" />
<line x1="161.20" y1="545.90" x2="165.20" y2="545.90" stroke="#000" stroke-width="1.2" />
<rect x="157.80" y="552.20" width="10.80" height="7.40" fill="#000"/>
<line x1="180.00" y1="484.80" x2="180.00" y2="481.70" stroke="#000" stroke-width="1.1" />
<line x1="178.00" y1="482.20" x2="182.00" y2="482.20" stroke="#000" stroke-width="1.2" />
<rect x="174.50" y="484.80" width="11.00" height="74.80" fill="#000"/>
<text x="14.20" y="570.40" font-size="8.5" stroke="#000" stroke-width="0.2" textLength="13.90" lengthAdjust="spacingAndGlyphs">IFN</text>
<text x="28.20" y="570.60" font-size="6.0" textLength="3.00" lengthAdjust="spacingAndGlyphs">γ</text>
<text x="39.20" y="578.80" font-size="7.4" text-anchor="end" textLength="37.00" lengthAdjust="spacingAndGlyphs">(100 ng/ml)</text>
<rect x="49.20" y="566.00" width="4.00" height="1.00" fill="#000"/>
<rect x="64.50" y="565.65" width="4.60" height="1.50" fill="#000"/>
<rect x="66.05" y="564.10" width="1.50" height="4.60" fill="#000"/>
<line x1="44.00" y1="574.20" x2="73.60" y2="574.20" stroke="#000" stroke-width="1.3" />
<rect x="86.30" y="566.00" width="4.00" height="1.00" fill="#000"/>
<rect x="102.30" y="565.65" width="4.60" height="1.50" fill="#000"/>
<rect x="103.85" y="564.10" width="1.50" height="4.60" fill="#000"/>
<line x1="80.60" y1="574.20" x2="110.20" y2="574.20" stroke="#000" stroke-width="1.3" />
<rect x="123.50" y="566.00" width="4.00" height="1.00" fill="#000"/>
<rect x="137.70" y="565.65" width="4.60" height="1.50" fill="#000"/>
<rect x="139.25" y="564.10" width="1.50" height="4.60" fill="#000"/>
<line x1="117.80" y1="574.20" x2="147.10" y2="574.20" stroke="#000" stroke-width="1.3" />
<rect x="161.10" y="566.00" width="4.00" height="1.00" fill="#000"/>
<rect x="176.80" y="565.65" width="4.60" height="1.50" fill="#000"/>
<rect x="178.35" y="564.10" width="1.50" height="4.60" fill="#000"/>
<line x1="156.30" y1="574.20" x2="185.50" y2="574.20" stroke="#000" stroke-width="1.3" />
<text x="54.80" y="583.80" font-size="7.4" textLength="8.70" lengthAdjust="spacingAndGlyphs">WT</text>
<text x="88.50" y="586.90" font-size="7.8" textLength="6.30" lengthAdjust="spacingAndGlyphs">TF</text>
<text x="95.90" y="581.60" font-size="5.4" textLength="8.40" lengthAdjust="spacingAndGlyphs">∆CT</text>
<text x="123.30" y="586.90" font-size="7.8" textLength="13.80" lengthAdjust="spacingAndGlyphs">PAR2</text>
<text x="138.10" y="582.40" font-size="5.4" textLength="5.30" lengthAdjust="spacingAndGlyphs">-/-</text>
<text x="161.40" y="586.90" font-size="7.8" textLength="6.30" lengthAdjust="spacingAndGlyphs">TF</text>
<text x="168.80" y="581.60" font-size="5.4" textLength="9.50" lengthAdjust="spacingAndGlyphs">∆CT</text>
<text x="161.40" y="596.40" font-size="7.8" textLength="13.70" lengthAdjust="spacingAndGlyphs">PAR2</text>
<text x="176.20" y="592.40" font-size="5.4" textLength="6.30" lengthAdjust="spacingAndGlyphs">-/-</text>
<rect x="241.70" y="463.60" width="85.10" height="101.80" fill="none" stroke="#000" stroke-width="1.2"/>
<line x1="239.30" y1="565.40" x2="241.70" y2="565.40" stroke="#000" stroke-width="0.8" />
<text x="236.40" y="567.80" font-size="7.0" text-anchor="end" textLength="3.33" lengthAdjust="spacingAndGlyphs">0</text>
<line x1="239.30" y1="545.04" x2="241.70" y2="545.04" stroke="#000" stroke-width="0.8" />
<text x="236.40" y="547.44" font-size="7.0" text-anchor="end" textLength="6.66" lengthAdjust="spacingAndGlyphs">50</text>
<line x1="239.30" y1="524.68" x2="241.70" y2="524.68" stroke="#000" stroke-width="0.8" />
<text x="236.40" y="527.08" font-size="7.0" text-anchor="end" textLength="9.99" lengthAdjust="spacingAndGlyphs">100</text>
<line x1="239.30" y1="504.32" x2="241.70" y2="504.32" stroke="#000" stroke-width="0.8" />
<text x="236.40" y="506.72" font-size="7.0" text-anchor="end" textLength="9.99" lengthAdjust="spacingAndGlyphs">150</text>
<line x1="239.30" y1="483.96" x2="241.70" y2="483.96" stroke="#000" stroke-width="0.8" />
<text x="236.40" y="486.36" font-size="7.0" text-anchor="end" textLength="9.99" lengthAdjust="spacingAndGlyphs">200</text>
<line x1="239.30" y1="463.60" x2="241.70" y2="463.60" stroke="#000" stroke-width="0.8" />
<text x="236.40" y="466.00" font-size="7.0" text-anchor="end" textLength="9.99" lengthAdjust="spacingAndGlyphs">250</text>
<text x="220.60" y="513.30" font-size="6.9" text-anchor="middle" textLength="88.20" lengthAdjust="spacingAndGlyphs" transform="rotate(-90 220.60 513.30)">TF Clotting Activity (mU/ml)</text>
<text x="262.60" y="459.30" font-size="11.0" stroke="#000" stroke-width="0.3" textLength="38.80" lengthAdjust="spacingAndGlyphs">3 hours</text>
<line x1="256.00" y1="529.70" x2="256.00" y2="523.80" stroke="#000" stroke-width="1.1" />
<line x1="254.70" y1="524.30" x2="257.30" y2="524.30" stroke="#000" stroke-width="1.2" />
<rect x="250.00" y="530.30" width="12.00" height="35.10" fill="#fff" stroke="#000" stroke-width="1.2"/>
<line x1="272.50" y1="491.00" x2="272.50" y2="480.30" stroke="#000" stroke-width="1.1" />
<line x1="271.20" y1="480.80" x2="273.80" y2="480.80" stroke="#000" stroke-width="1.2" />
<rect x="265.70" y="491.00" width="13.60" height="74.40" fill="#000"/>
<line x1="297.05" y1="501.00" x2="297.05" y2="495.20" stroke="#000" stroke-width="1.1" />
<line x1="295.75" y1="495.70" x2="298.35" y2="495.70" stroke="#000" stroke-width="1.2" />
<rect x="291.00" y="501.60" width="12.10" height="63.80" fill="#fff" stroke="#000" stroke-width="1.2"/>
<line x1="313.20" y1="502.30" x2="313.20" y2="488.50" stroke="#000" stroke-width="1.1" />
<line x1="311.90" y1="489.00" x2="314.50" y2="489.00" stroke="#000" stroke-width="1.2" />
<rect x="306.30" y="502.30" width="13.80" height="63.10" fill="#000"/>
<polygon points="271.50,472.70 272.16,474.19 273.78,474.36 272.57,475.45 272.91,477.04 271.50,476.23 270.09,477.04 270.43,475.45 269.22,474.36 270.84,474.19" fill="#000"/>
<rect x="247.10" y="468.20" width="6.50" height="3.40" fill="#fff" stroke="#000" stroke-width="1.2"/>
<text x="258.20" y="472.70" font-size="7.2" textLength="11.10" lengthAdjust="spacingAndGlyphs">WT</text>
<rect x="279.90" y="468.40" width="7.10" height="4.20" fill="#000"/>
<text x="292.20" y="474.40" font-size="7.2" textLength="7.60" lengthAdjust="spacingAndGlyphs">TF</text>
<text x="300.50" y="469.30" font-size="5.2" textLength="11.80" lengthAdjust="spacingAndGlyphs">∆CT</text>
<line x1="250.60" y1="571.30" x2="279.80" y2="571.30" stroke="#000" stroke-width="1.4" />
<line x1="290.40" y1="571.30" x2="320.40" y2="571.30" stroke="#000" stroke-width="1.4" />
<text x="256.40" y="581.50" font-size="8.0" stroke="#000" stroke-width="0.15" textLength="16.00" lengthAdjust="spacingAndGlyphs">LPS</text>
<text x="248.00" y="590.60" font-size="8.0" stroke="#000" stroke-width="0.15" textLength="32.60" lengthAdjust="spacingAndGlyphs">(1 µg/ml)</text>
<text x="298.30" y="581.50" font-size="8.0" stroke="#000" stroke-width="0.15" textLength="13.00" lengthAdjust="spacingAndGlyphs">IFNγ</text>
<text x="288.20" y="590.60" font-size="8.0" stroke="#000" stroke-width="0.15" textLength="42.30" lengthAdjust="spacingAndGlyphs">(100 ng/ml)</text>
<rect x="376.30" y="464.10" width="138.70" height="102.80" fill="none" stroke="#000" stroke-width="1.2"/>
<line x1="373.90" y1="566.90" x2="376.30" y2="566.90" stroke="#000" stroke-width="0.8" />
<text x="371.00" y="569.20" font-size="6.8" text-anchor="end" textLength="3.10" lengthAdjust="spacingAndGlyphs">0</text>
<line x1="373.90" y1="546.34" x2="376.30" y2="546.34" stroke="#000" stroke-width="0.8" />
<text x="371.00" y="548.64" font-size="6.8" text-anchor="end" textLength="6.20" lengthAdjust="spacingAndGlyphs">40</text>
<line x1="373.90" y1="525.78" x2="376.30" y2="525.78" stroke="#000" stroke-width="0.8" />
<text x="371.00" y="528.08" font-size="6.8" text-anchor="end" textLength="6.20" lengthAdjust="spacingAndGlyphs">80</text>
<line x1="373.90" y1="505.22" x2="376.30" y2="505.22" stroke="#000" stroke-width="0.8" />
<text x="371.00" y="507.52" font-size="6.8" text-anchor="end" textLength="9.30" lengthAdjust="spacingAndGlyphs">120</text>
<line x1="373.90" y1="484.66" x2="376.30" y2="484.66" stroke="#000" stroke-width="0.8" />
<text x="371.00" y="486.96" font-size="6.8" text-anchor="end" textLength="9.30" lengthAdjust="spacingAndGlyphs">160</text>
<line x1="373.90" y1="464.10" x2="376.30" y2="464.10" stroke="#000" stroke-width="0.8" />
<text x="371.00" y="466.40" font-size="6.8" text-anchor="end" textLength="9.30" lengthAdjust="spacingAndGlyphs">200</text>
<text x="356.60" y="513.00" font-size="6.9" text-anchor="middle" textLength="87.60" lengthAdjust="spacingAndGlyphs" transform="rotate(-90 356.60 513.00)">TF Clotting Activity (mU/ml)</text>
<text x="430.10" y="460.70" font-size="10.8" stroke="#000" stroke-width="0.15" textLength="35.00" lengthAdjust="spacingAndGlyphs">6 hours</text>
<line x1="381.55" y1="552.00" x2="381.55" y2="549.40" stroke="#000" stroke-width="1.1" />
<line x1="380.35" y1="549.90" x2="382.75" y2="549.90" stroke="#000" stroke-width="1.2" />
<rect x="379.10" y="552.60" width="4.90" height="14.30" fill="#fff" stroke="#000" stroke-width="1.2"/>
<line x1="390.70" y1="547.00" x2="390.70" y2="542.70" stroke="#000" stroke-width="1.1" />
<line x1="389.50" y1="543.20" x2="391.90" y2="543.20" stroke="#000" stroke-width="1.2" />
<rect x="387.00" y="547.00" width="7.40" height="19.90" fill="#000"/>
<line x1="404.90" y1="548.80" x2="404.90" y2="542.70" stroke="#000" stroke-width="1.1" />
<line x1="403.70" y1="543.20" x2="406.10" y2="543.20" stroke="#000" stroke-width="1.2" />
<rect x="402.20" y="549.40" width="5.40" height="17.50" fill="#fff" stroke="#000" stroke-width="1.2"/>
<line x1="414.20" y1="546.20" x2="414.20" y2="544.30" stroke="#000" stroke-width="1.1" />
<line x1="413.00" y1="544.80" x2="415.40" y2="544.80" stroke="#000" stroke-width="1.2" />
<rect x="410.60" y="546.20" width="7.20" height="20.70" fill="#000"/>
<line x1="428.60" y1="525.40" x2="428.60" y2="503.10" stroke="#000" stroke-width="1.1" />
<line x1="427.40" y1="503.60" x2="429.80" y2="503.60" stroke="#000" stroke-width="1.2" />
<rect x="425.90" y="526.00" width="5.40" height="40.90" fill="#fff" stroke="#000" stroke-width="1.2"/>
<line x1="437.50" y1="516.10" x2="437.50" y2="498.40" stroke="#000" stroke-width="1.1" />
<line x1="436.30" y1="498.90" x2="438.70" y2="498.90" stroke="#000" stroke-width="1.2" />
<rect x="433.80" y="516.10" width="7.40" height="50.80" fill="#000"/>
<line x1="451.85" y1="495.20" x2="451.85" y2="487.70" stroke="#000" stroke-width="1.1" />
<line x1="450.65" y1="488.20" x2="453.05" y2="488.20" stroke="#000" stroke-width="1.2" />
<rect x="449.00" y="495.80" width="5.70" height="71.10" fill="#fff" stroke="#000" stroke-width="1.2"/>
<rect x="457.10" y="483.20" width="7.20" height="83.70" fill="#000"/>
<line x1="475.05" y1="487.70" x2="475.05" y2="477.10" stroke="#000" stroke-width="1.1" />
<line x1="473.85" y1="477.60" x2="476.25" y2="477.60" stroke="#000" stroke-width="1.2" />
<rect x="472.30" y="488.30" width="5.50" height="78.60" fill="#fff" stroke="#000" stroke-width="1.2"/>
<line x1="484.35" y1="481.10" x2="484.35" y2="475.30" stroke="#000" stroke-width="1.1" />
<line x1="483.15" y1="475.80" x2="485.55" y2="475.80" stroke="#000" stroke-width="1.2" />
<rect x="480.50" y="481.10" width="7.70" height="85.80" fill="#000"/>
<line x1="498.90" y1="533.40" x2="498.90" y2="531.00" stroke="#000" stroke-width="1.1" />
<line x1="497.70" y1="531.50" x2="500.10" y2="531.50" stroke="#000" stroke-width="1.2" />
<rect x="496.20" y="534.00" width="5.40" height="32.90" fill="#fff" stroke="#000" stroke-width="1.2"/>
<line x1="507.95" y1="500.20" x2="507.95" y2="498.90" stroke="#000" stroke-width="1.1" />
<line x1="506.75" y1="499.40" x2="509.15" y2="499.40" stroke="#000" stroke-width="1.2" />
<rect x="504.40" y="500.20" width="7.10" height="66.70" fill="#000"/>
<polygon points="507.60,492.00 508.26,493.49 509.88,493.66 508.67,494.75 509.01,496.34 507.60,495.53 506.19,496.34 506.53,494.75 505.32,493.66 506.94,493.49" fill="#000"/>
<rect x="389.70" y="470.80" width="6.70" height="2.80" fill="#fff" stroke="#000" stroke-width="1.2"/>
<text x="399.60" y="474.50" font-size="6.6" textLength="10.40" lengthAdjust="spacingAndGlyphs">WT</text>
<rect x="389.30" y="480.30" width="7.20" height="3.50" fill="#000"/>
<text x="400.40" y="484.50" font-size="6.6" textLength="7.70" lengthAdjust="spacingAndGlyphs">TF</text>
<text x="408.80" y="480.40" font-size="5.0" textLength="10.00" lengthAdjust="spacingAndGlyphs">∆CT</text>
<text x="385.80" y="579.20" font-size="8.6" stroke="#000" stroke-width="0.15" text-anchor="middle">0</text>
<text x="409.60" y="579.20" font-size="8.6" stroke="#000" stroke-width="0.15" text-anchor="middle">2</text>
<text x="433.60" y="579.20" font-size="8.6" stroke="#000" stroke-width="0.15" text-anchor="middle">10</text>
<text x="456.80" y="579.20" font-size="8.6" stroke="#000" stroke-width="0.15" text-anchor="middle">25</text>
<text x="480.60" y="579.20" font-size="8.6" stroke="#000" stroke-width="0.15" text-anchor="middle">50</text>
<text x="504.20" y="579.20" font-size="8.4" stroke="#000" stroke-width="0.15" text-anchor="middle" textLength="14.60" lengthAdjust="spacingAndGlyphs">LPS</text>
<text x="506.20" y="585.60" font-size="5.6" text-anchor="middle" textLength="23.80" lengthAdjust="spacingAndGlyphs">(1 µg/ml)</text>
<line x1="380.30" y1="583.90" x2="493.00" y2="583.90" stroke="#000" stroke-width="1.2" />
<text x="420.00" y="593.50" font-size="7.9" textLength="43.20" lengthAdjust="spacingAndGlyphs">IFNγ (ng/ml)</text>
</g>
<defs><filter id="blur" x="0" y="0" width="100%" height="100%"><feGaussianBlur stdDeviation="0.35"/></filter></defs>
</svg>
</body></html>
